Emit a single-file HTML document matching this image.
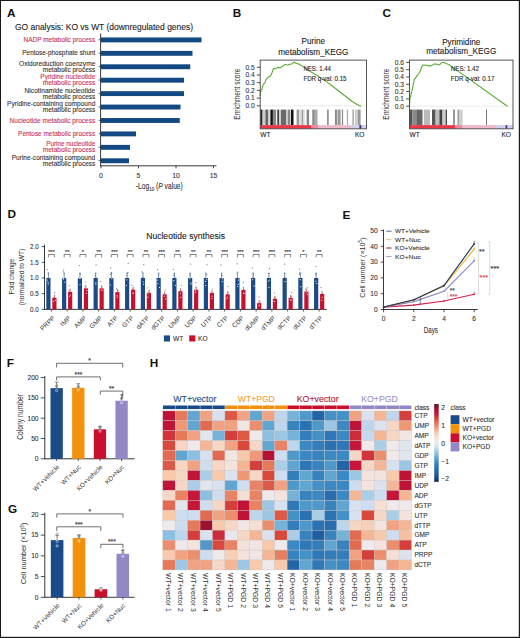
<!DOCTYPE html>
<html><head><meta charset="utf-8"><style>
html,body{margin:0;padding:0;background:#fff;}
body{width:520px;height:638px;overflow:hidden;}
svg{display:block;font-family:"Liberation Sans", sans-serif;}
</style></head><body>
<svg width="520" height="638" viewBox="0 0 520 638">
<rect x="0" y="0" width="520" height="638" fill="#fff"/>
<text x="7.0" y="16.6" font-size="11.8" fill="#111" text-anchor="start" font-weight="bold">A</text>
<text x="232.8" y="16.6" font-size="11.8" fill="#111" text-anchor="start" font-weight="bold">B</text>
<text x="382.4" y="16.8" font-size="11.8" fill="#111" text-anchor="start" font-weight="bold">C</text>
<text x="7.5" y="218.1" font-size="11.8" fill="#111" text-anchor="start" font-weight="bold">D</text>
<text x="342.5" y="218.9" font-size="11.8" fill="#111" text-anchor="start" font-weight="bold">E</text>
<text x="6.8" y="367.2" font-size="11.8" fill="#111" text-anchor="start" font-weight="bold">F</text>
<text x="8" y="513.4" font-size="11.8" fill="#111" text-anchor="start" font-weight="bold">G</text>
<text x="149.8" y="367.2" font-size="11.8" fill="#111" text-anchor="start" font-weight="bold">H</text>
<text x="15" y="29.6" font-size="8.6" fill="#222" text-anchor="start" textLength="178" lengthAdjust="spacingAndGlyphs" stroke="#222" stroke-width="0.1">GO analysis: KO vs WT (downregulated genes)</text>
<text x="95.3" y="42.05" font-size="6.6" fill="#c4315a" text-anchor="end" textLength="71.8" lengthAdjust="spacingAndGlyphs" stroke="#c4315a" stroke-width="0.1">NADP metabolic process</text>
<rect x="101.00" y="37.45" width="100.50" height="4.90" fill="#134983"/>
<line x1="98.6" y1="39.75" x2="100.6" y2="39.75" stroke="#222" stroke-width="0.7"/>
<text x="95.3" y="55.48" font-size="6.6" fill="#333" text-anchor="end" textLength="73" lengthAdjust="spacingAndGlyphs" stroke="#333" stroke-width="0.1">Pentose-phosphate shunt</text>
<rect x="101.00" y="50.88" width="91.50" height="4.90" fill="#134983"/>
<line x1="98.6" y1="53.18" x2="100.6" y2="53.18" stroke="#222" stroke-width="0.7"/>
<text x="95.3" y="65.71" font-size="6.6" fill="#333" text-anchor="end" textLength="76.2" lengthAdjust="spacingAndGlyphs" stroke="#333" stroke-width="0.1">Oxidoreduction coenzyme</text>
<text x="95.3" y="71.81" font-size="6.6" fill="#333" text-anchor="end" textLength="52.5" lengthAdjust="spacingAndGlyphs" stroke="#333" stroke-width="0.1">metabolic process</text>
<rect x="101.00" y="64.31" width="89.25" height="4.90" fill="#134983"/>
<line x1="98.6" y1="66.61" x2="100.6" y2="66.61" stroke="#222" stroke-width="0.7"/>
<text x="95.3" y="79.13999999999999" font-size="6.6" fill="#c4315a" text-anchor="end" textLength="55" lengthAdjust="spacingAndGlyphs" stroke="#c4315a" stroke-width="0.1">Pyridine nucleotide</text>
<text x="95.3" y="85.24" font-size="6.6" fill="#c4315a" text-anchor="end" textLength="52.5" lengthAdjust="spacingAndGlyphs" stroke="#c4315a" stroke-width="0.1">metabolic process</text>
<rect x="101.00" y="77.74" width="83.03" height="4.90" fill="#134983"/>
<line x1="98.6" y1="80.03999999999999" x2="100.6" y2="80.03999999999999" stroke="#222" stroke-width="0.7"/>
<text x="95.3" y="92.57" font-size="6.6" fill="#333" text-anchor="end" textLength="70.8" lengthAdjust="spacingAndGlyphs" stroke="#333" stroke-width="0.1">Nicotinamide nucleotide</text>
<text x="95.3" y="98.67" font-size="6.6" fill="#333" text-anchor="end" textLength="52.5" lengthAdjust="spacingAndGlyphs" stroke="#333" stroke-width="0.1">metabolic process</text>
<rect x="101.00" y="91.17" width="83.03" height="4.90" fill="#134983"/>
<line x1="98.6" y1="93.47" x2="100.6" y2="93.47" stroke="#222" stroke-width="0.7"/>
<text x="95.3" y="106.0" font-size="6.6" fill="#333" text-anchor="end" textLength="88.2" lengthAdjust="spacingAndGlyphs" stroke="#333" stroke-width="0.1">Pyridine-containing compound</text>
<text x="95.3" y="112.10000000000001" font-size="6.6" fill="#333" text-anchor="end" textLength="52.5" lengthAdjust="spacingAndGlyphs" stroke="#333" stroke-width="0.1">metabolic process</text>
<rect x="101.00" y="104.60" width="79.50" height="4.90" fill="#134983"/>
<line x1="98.6" y1="106.9" x2="100.6" y2="106.9" stroke="#222" stroke-width="0.7"/>
<text x="95.3" y="122.63" font-size="6.6" fill="#c4315a" text-anchor="end" textLength="85.7" lengthAdjust="spacingAndGlyphs" stroke="#c4315a" stroke-width="0.1">Nucleotide metabolic process</text>
<rect x="101.00" y="118.03" width="78.75" height="4.90" fill="#134983"/>
<line x1="98.6" y1="120.33" x2="100.6" y2="120.33" stroke="#222" stroke-width="0.7"/>
<text x="95.3" y="136.06" font-size="6.6" fill="#c4315a" text-anchor="end" textLength="77.2" lengthAdjust="spacingAndGlyphs" stroke="#c4315a" stroke-width="0.1">Pentose metabolic process</text>
<rect x="101.00" y="131.46" width="35.02" height="4.90" fill="#134983"/>
<line x1="98.6" y1="133.76" x2="100.6" y2="133.76" stroke="#222" stroke-width="0.7"/>
<text x="95.3" y="146.29" font-size="6.6" fill="#c4315a" text-anchor="end" textLength="49.1" lengthAdjust="spacingAndGlyphs" stroke="#c4315a" stroke-width="0.1">Purine nucleotide</text>
<text x="95.3" y="152.39" font-size="6.6" fill="#c4315a" text-anchor="end" textLength="52.5" lengthAdjust="spacingAndGlyphs" stroke="#c4315a" stroke-width="0.1">metabolic process</text>
<rect x="101.00" y="144.89" width="29.03" height="4.90" fill="#134983"/>
<line x1="98.6" y1="147.19" x2="100.6" y2="147.19" stroke="#222" stroke-width="0.7"/>
<text x="95.3" y="159.72" font-size="6.6" fill="#333" text-anchor="end" textLength="83.6" lengthAdjust="spacingAndGlyphs" stroke="#333" stroke-width="0.1">Purine-containing compound</text>
<text x="95.3" y="165.82" font-size="6.6" fill="#333" text-anchor="end" textLength="52.5" lengthAdjust="spacingAndGlyphs" stroke="#333" stroke-width="0.1">metabolic process</text>
<rect x="101.00" y="158.32" width="27.98" height="4.90" fill="#134983"/>
<line x1="98.6" y1="160.62" x2="100.6" y2="160.62" stroke="#222" stroke-width="0.7"/>
<line x1="100.6" y1="33.5" x2="100.6" y2="166.2" stroke="#222" stroke-width="0.9"/>
<line x1="100.2" y1="165.8" x2="216.5" y2="165.8" stroke="#222" stroke-width="0.9"/>
<line x1="101.0" y1="165.8" x2="101.0" y2="168.3" stroke="#222" stroke-width="0.8"/>
<text x="101.0" y="178" font-size="6.8" fill="#333" text-anchor="middle" stroke="#333" stroke-width="0.1">0</text>
<line x1="138.5" y1="165.8" x2="138.5" y2="168.3" stroke="#222" stroke-width="0.8"/>
<text x="138.5" y="178" font-size="6.8" fill="#333" text-anchor="middle" stroke="#333" stroke-width="0.1">5</text>
<line x1="176.0" y1="165.8" x2="176.0" y2="168.3" stroke="#222" stroke-width="0.8"/>
<text x="176.0" y="178" font-size="6.8" fill="#333" text-anchor="middle" stroke="#333" stroke-width="0.1">10</text>
<line x1="213.5" y1="165.8" x2="213.5" y2="168.3" stroke="#222" stroke-width="0.8"/>
<text x="213.5" y="178" font-size="6.8" fill="#333" text-anchor="middle" stroke="#333" stroke-width="0.1">15</text>
<text x="135.8" y="189.4" font-size="8.2" fill="#333" stroke="#333" stroke-width="0.1" text-anchor="start" textLength="47" lengthAdjust="spacingAndGlyphs">-Log<tspan font-size="5.6" dy="1.7">10</tspan><tspan dy="-1.7"> (</tspan><tspan font-style="italic">P</tspan> value)</text>
<text x="313.34999999999997" y="43.9" font-size="8.2" fill="#222" text-anchor="middle" stroke="#222" stroke-width="0.1">Purine</text>
<text x="313.34999999999997" y="54.7" font-size="8.2" fill="#222" text-anchor="middle" stroke="#222" stroke-width="0.1">metabolism_KEGG</text>
<line x1="260.2" y1="105.8" x2="366.5" y2="105.8" stroke="#bbb" stroke-width="0.6" stroke-dasharray="1,1"/>
<rect x="260.40" y="109.60" width="1.90" height="15.50" fill="#222"/>
<rect x="262.30" y="109.60" width="1.20" height="15.50" fill="#999"/>
<rect x="263.50" y="109.60" width="1.90" height="15.50" fill="#ccc"/>
<rect x="265.40" y="109.60" width="3.10" height="15.50" fill="#666"/>
<rect x="268.50" y="109.60" width="1.90" height="15.50" fill="#ddd"/>
<rect x="270.40" y="109.60" width="2.50" height="15.50" fill="#111"/>
<rect x="272.90" y="109.60" width="3.10" height="15.50" fill="#888"/>
<rect x="276.00" y="109.60" width="1.30" height="15.50" fill="#eee"/>
<rect x="277.30" y="109.60" width="1.80" height="15.50" fill="#444"/>
<rect x="279.10" y="109.60" width="1.90" height="15.50" fill="#ccc"/>
<rect x="281.00" y="109.60" width="5.00" height="15.50" fill="#6a6a6a"/>
<rect x="286.00" y="109.60" width="1.90" height="15.50" fill="#ccc"/>
<rect x="287.90" y="109.60" width="2.50" height="15.50" fill="#888"/>
<rect x="290.40" y="109.60" width="0.60" height="15.50" fill="#ddd"/>
<rect x="291.00" y="109.60" width="2.50" height="15.50" fill="#111"/>
<rect x="296.60" y="109.60" width="2.50" height="15.50" fill="#999"/>
<rect x="299.10" y="109.60" width="1.90" height="15.50" fill="#ddd"/>
<rect x="301.60" y="109.60" width="1.30" height="15.50" fill="#888"/>
<rect x="302.90" y="109.60" width="1.90" height="15.50" fill="#ddd"/>
<rect x="306.60" y="109.60" width="2.50" height="15.50" fill="#888"/>
<rect x="312.30" y="109.60" width="2.50" height="15.50" fill="#888"/>
<rect x="314.80" y="109.60" width="2.70" height="15.50" fill="#aaa"/>
<rect x="326.90" y="109.60" width="1.90" height="15.50" fill="#999"/>
<rect x="335.00" y="109.60" width="1.90" height="15.50" fill="#888"/>
<rect x="337.50" y="109.60" width="3.10" height="15.50" fill="#999"/>
<rect x="341.90" y="109.60" width="1.20" height="15.50" fill="#888"/>
<rect x="346.90" y="109.60" width="1.20" height="15.50" fill="#aaa"/>
<rect x="352.50" y="109.60" width="1.30" height="15.50" fill="#999"/>
<rect x="355.00" y="109.60" width="1.90" height="15.50" fill="#ccc"/>
<rect x="357.50" y="109.60" width="3.10" height="15.50" fill="#999"/>
<rect x="260.00" y="125.10" width="51.00" height="3.60" fill="#e8384a"/>
<rect x="311.00" y="125.10" width="7.00" height="3.60" fill="#ee8a9c"/>
<rect x="318.00" y="125.10" width="32.00" height="3.60" fill="#f1b9cb"/>
<rect x="350.00" y="125.10" width="16.50" height="3.60" fill="#d6cdea"/>
<rect x="359.40" y="125.10" width="1.90" height="3.60" fill="#2a3a8a"/>
<polyline points="259.9,95.9 260.5,91.5 261.6,90.4 262.1,88.5 262.7,86.0 263.8,83.8 265.0,82.7 265.6,80.5 266.0,79.3 267.2,78.4 268.3,77.1 270.5,76.0 271.6,73.8 272.1,72.3 272.7,70.5 273.8,68.3 275.0,68.6 276.0,68.7 277.2,67.6 278.2,67.2 279.3,67.9 280.4,67.8 281.5,66.7 282.7,66.0 283.8,65.5 284.9,64.3 286.5,64.8 288.2,65.0 289.3,64.2 290.4,64.3 291.5,64.0 292.6,63.4 293.5,62.8 294.4,62.3 295.9,63.4 298.1,63.8 299.8,64.8 301.5,65.6 305.9,68.5 310.3,71.6 315.9,74.8 321.4,78.2 327.0,82.1 332.4,86.0 338.0,90.5 343.5,94.8 348.0,98.3 352.3,101.5 355.8,103.7 359.0,105.4 361.2,106.2" fill="none" stroke="#5cab35" stroke-width="1.1" stroke-linejoin="round"/>
<rect x="260.2" y="60.1" width="106.3" height="68.7" fill="none" stroke="#444" stroke-width="0.9"/>
<line x1="256.8" y1="105.8" x2="260.2" y2="105.8" stroke="#222" stroke-width="0.8"/>
<text x="254.6" y="108.1" font-size="6.6" fill="#333" text-anchor="end" stroke="#333" stroke-width="0.1">0.0</text>
<line x1="256.8" y1="98.1" x2="260.2" y2="98.1" stroke="#222" stroke-width="0.8"/>
<text x="254.6" y="100.39999999999999" font-size="6.6" fill="#333" text-anchor="end" stroke="#333" stroke-width="0.1">0.1</text>
<line x1="256.8" y1="90.39999999999999" x2="260.2" y2="90.39999999999999" stroke="#222" stroke-width="0.8"/>
<text x="254.6" y="92.69999999999999" font-size="6.6" fill="#333" text-anchor="end" stroke="#333" stroke-width="0.1">0.2</text>
<line x1="256.8" y1="82.69999999999999" x2="260.2" y2="82.69999999999999" stroke="#222" stroke-width="0.8"/>
<text x="254.6" y="84.99999999999999" font-size="6.6" fill="#333" text-anchor="end" stroke="#333" stroke-width="0.1">0.3</text>
<line x1="256.8" y1="75.0" x2="260.2" y2="75.0" stroke="#222" stroke-width="0.8"/>
<text x="254.6" y="77.3" font-size="6.6" fill="#333" text-anchor="end" stroke="#333" stroke-width="0.1">0.4</text>
<line x1="256.8" y1="67.3" x2="260.2" y2="67.3" stroke="#222" stroke-width="0.8"/>
<text x="254.6" y="69.6" font-size="6.6" fill="#333" text-anchor="end" stroke="#333" stroke-width="0.1">0.5</text>
<text x="303.4" y="70.5" font-size="6.8" fill="#222" text-anchor="start" textLength="27.6" lengthAdjust="spacingAndGlyphs" stroke="#222" stroke-width="0.1">NES: 1.44</text>
<text x="303.4" y="80.5" font-size="6.8" fill="#222" text-anchor="start" textLength="43.1" lengthAdjust="spacingAndGlyphs" stroke="#222" stroke-width="0.1">FDR q-val: 0.15</text>
<text x="260.2" y="136.6" font-size="6.6" fill="#222" text-anchor="start" stroke="#222" stroke-width="0.1">WT</text>
<text x="364.5" y="136.6" font-size="6.6" fill="#222" text-anchor="end" stroke="#222" stroke-width="0.1">KO</text>
<text transform="translate(239.6,94.2) rotate(-90)" font-size="8.2" fill="#333" text-anchor="middle" textLength="51" lengthAdjust="spacingAndGlyphs">Enrichment score</text>
<text x="461.25" y="44.7" font-size="8.2" fill="#222" text-anchor="middle" stroke="#222" stroke-width="0.1">Pyrimidine</text>
<text x="461.25" y="53.9" font-size="8.2" fill="#222" text-anchor="middle" stroke="#222" stroke-width="0.1">metabolism_KEGG</text>
<line x1="409.5" y1="106.2" x2="513.0" y2="106.2" stroke="#bbb" stroke-width="0.6" stroke-dasharray="1,1"/>
<rect x="409.60" y="109.60" width="2.90" height="15.50" fill="#555"/>
<rect x="412.50" y="109.60" width="4.50" height="15.50" fill="#8a8a8a"/>
<rect x="417.00" y="109.60" width="0.70" height="15.50" fill="#111"/>
<rect x="417.70" y="109.60" width="4.80" height="15.50" fill="#666"/>
<rect x="423.80" y="109.60" width="6.20" height="15.50" fill="#bbb"/>
<rect x="432.00" y="109.60" width="3.60" height="15.50" fill="#555"/>
<rect x="435.60" y="109.60" width="3.80" height="15.50" fill="#bbb"/>
<rect x="439.40" y="109.60" width="3.10" height="15.50" fill="#444"/>
<rect x="442.50" y="109.60" width="2.50" height="15.50" fill="#ccc"/>
<rect x="445.60" y="109.60" width="1.30" height="15.50" fill="#333"/>
<rect x="453.00" y="109.60" width="2.00" height="15.50" fill="#999"/>
<rect x="457.50" y="109.60" width="1.90" height="15.50" fill="#999"/>
<rect x="460.00" y="109.60" width="2.50" height="15.50" fill="#ccc"/>
<rect x="486.00" y="109.60" width="0.80" height="15.50" fill="#555"/>
<rect x="409.50" y="125.10" width="45.50" height="3.60" fill="#e8384a"/>
<rect x="455.00" y="125.10" width="7.00" height="3.60" fill="#ee8a9c"/>
<rect x="462.00" y="125.10" width="34.00" height="3.60" fill="#f1b9cb"/>
<rect x="496.00" y="125.10" width="17.00" height="3.60" fill="#d6cdea"/>
<rect x="505.60" y="125.10" width="1.60" height="3.60" fill="#2a3a8a"/>
<polyline points="409.4,105.9 409.9,99.2 410.5,96.5 411.2,93.7 412.1,90.4 412.8,86.8 413.4,83.8 414.3,79.3 415.2,78.5 416.1,77.1 417.2,75.4 418.7,73.8 419.6,72.5 420.5,70.5 421.6,67.2 422.7,65.0 424.3,65.2 426.0,65.0 427.1,65.5 428.2,65.6 430.4,66.1 431.5,65.4 432.7,65.0 434.9,63.8 436.0,64.1 437.1,64.3 439.3,65.0 440.4,63.8 441.5,62.7 443.7,62.3 445.9,63.4 448.1,64.3 450.4,65.6 507.4,106.2" fill="none" stroke="#5cab35" stroke-width="1.1" stroke-linejoin="round"/>
<rect x="409.5" y="60.1" width="103.5" height="68.7" fill="none" stroke="#444" stroke-width="0.9"/>
<line x1="406.1" y1="106.2" x2="409.5" y2="106.2" stroke="#222" stroke-width="0.8"/>
<text x="403.9" y="108.5" font-size="6.6" fill="#333" text-anchor="end" stroke="#333" stroke-width="0.1">0.0</text>
<line x1="406.1" y1="98.9" x2="409.5" y2="98.9" stroke="#222" stroke-width="0.8"/>
<text x="403.9" y="101.2" font-size="6.6" fill="#333" text-anchor="end" stroke="#333" stroke-width="0.1">0.1</text>
<line x1="406.1" y1="91.60000000000001" x2="409.5" y2="91.60000000000001" stroke="#222" stroke-width="0.8"/>
<text x="403.9" y="93.9" font-size="6.6" fill="#333" text-anchor="end" stroke="#333" stroke-width="0.1">0.2</text>
<line x1="406.1" y1="84.30000000000001" x2="409.5" y2="84.30000000000001" stroke="#222" stroke-width="0.8"/>
<text x="403.9" y="86.60000000000001" font-size="6.6" fill="#333" text-anchor="end" stroke="#333" stroke-width="0.1">0.3</text>
<line x1="406.1" y1="77.0" x2="409.5" y2="77.0" stroke="#222" stroke-width="0.8"/>
<text x="403.9" y="79.3" font-size="6.6" fill="#333" text-anchor="end" stroke="#333" stroke-width="0.1">0.4</text>
<line x1="406.1" y1="69.7" x2="409.5" y2="69.7" stroke="#222" stroke-width="0.8"/>
<text x="403.9" y="72.0" font-size="6.6" fill="#333" text-anchor="end" stroke="#333" stroke-width="0.1">0.5</text>
<line x1="406.1" y1="62.400000000000006" x2="409.5" y2="62.400000000000006" stroke="#222" stroke-width="0.8"/>
<text x="403.9" y="64.7" font-size="6.6" fill="#333" text-anchor="end" stroke="#333" stroke-width="0.1">0.6</text>
<text x="450.8" y="70.5" font-size="6.8" fill="#222" text-anchor="start" textLength="28.2" lengthAdjust="spacingAndGlyphs" stroke="#222" stroke-width="0.1">NES: 1.42</text>
<text x="450.8" y="80.5" font-size="6.8" fill="#222" text-anchor="start" textLength="43.6" lengthAdjust="spacingAndGlyphs" stroke="#222" stroke-width="0.1">FDR q-val: 0.17</text>
<text x="409.5" y="136.6" font-size="6.6" fill="#222" text-anchor="start" stroke="#222" stroke-width="0.1">WT</text>
<text x="511.0" y="136.6" font-size="6.6" fill="#222" text-anchor="end" stroke="#222" stroke-width="0.1">KO</text>
<text transform="translate(388.9,94.2) rotate(-90)" font-size="8.2" fill="#333" text-anchor="middle" textLength="51" lengthAdjust="spacingAndGlyphs">Enrichment score</text>
<text x="185.6" y="238.8" font-size="8.4" fill="#222" text-anchor="middle" textLength="78.8" lengthAdjust="spacingAndGlyphs" stroke="#222" stroke-width="0.1">Nucleotide synthesis</text>
<line x1="44.5" y1="244.8" x2="44.5" y2="309.8" stroke="#222" stroke-width="0.9"/>
<line x1="44.1" y1="309.4" x2="326.8" y2="309.4" stroke="#222" stroke-width="0.9"/>
<line x1="41.8" y1="309.4" x2="44.5" y2="309.4" stroke="#222" stroke-width="0.8"/>
<text x="38.7" y="311.7" font-size="6.6" fill="#333" text-anchor="end" textLength="8.6" lengthAdjust="spacingAndGlyphs" stroke="#333" stroke-width="0.1">0.0</text>
<line x1="41.8" y1="293.7" x2="44.5" y2="293.7" stroke="#222" stroke-width="0.8"/>
<text x="38.7" y="296.0" font-size="6.6" fill="#333" text-anchor="end" textLength="8.6" lengthAdjust="spacingAndGlyphs" stroke="#333" stroke-width="0.1">0.5</text>
<line x1="41.8" y1="278.0" x2="44.5" y2="278.0" stroke="#222" stroke-width="0.8"/>
<text x="38.7" y="280.3" font-size="6.6" fill="#333" text-anchor="end" textLength="8.6" lengthAdjust="spacingAndGlyphs" stroke="#333" stroke-width="0.1">1.0</text>
<line x1="41.8" y1="262.29999999999995" x2="44.5" y2="262.29999999999995" stroke="#222" stroke-width="0.8"/>
<text x="38.7" y="264.59999999999997" font-size="6.6" fill="#333" text-anchor="end" textLength="8.6" lengthAdjust="spacingAndGlyphs" stroke="#333" stroke-width="0.1">1.5</text>
<line x1="41.8" y1="246.59999999999997" x2="44.5" y2="246.59999999999997" stroke="#222" stroke-width="0.8"/>
<text x="38.7" y="248.89999999999998" font-size="6.6" fill="#333" text-anchor="end" textLength="8.6" lengthAdjust="spacingAndGlyphs" stroke="#333" stroke-width="0.1">2.0</text>
<text transform="translate(14.2,276.6) rotate(-90)" font-size="7.2" fill="#333" text-anchor="middle" textLength="35.7" lengthAdjust="spacingAndGlyphs">Fold change</text>
<text transform="translate(24.2,277) rotate(-90)" font-size="7.2" fill="#333" text-anchor="middle" textLength="56.4" lengthAdjust="spacingAndGlyphs">(normalized to WT)</text>
<line x1="48.4" y1="273.0" x2="48.4" y2="278.0" stroke="#1b3f73" stroke-width="0.6"/>
<line x1="47.599999999999994" y1="273.0" x2="49.199999999999996" y2="273.0" stroke="#1b3f73" stroke-width="0.5"/>
<line x1="54.4" y1="294.782" x2="54.4" y2="297.782" stroke="#8a0f22" stroke-width="0.6"/>
<rect x="46.30" y="278.00" width="4.20" height="31.40" fill="#1b4a88"/>
<rect x="52.30" y="297.78" width="4.20" height="11.62" fill="#c8102e"/>
<circle cx="48.10" cy="282.29" r="0.62" fill="#dfe6f2"/>
<circle cx="47.43" cy="280.10" r="0.62" fill="#dfe6f2"/>
<circle cx="48.42" cy="273.04" r="0.62" fill="#6d7f9c"/>
<circle cx="47.38" cy="269.58" r="0.62" fill="#6d7f9c"/>
<circle cx="48.25" cy="284.05" r="0.62" fill="#dfe6f2"/>
<circle cx="53.57" cy="301.33" r="0.62" fill="#f6c7cf"/>
<circle cx="53.79" cy="297.55" r="0.62" fill="#b77a86"/>
<circle cx="54.68" cy="292.64" r="0.62" fill="#b77a86"/>
<circle cx="55.38" cy="300.17" r="0.62" fill="#f6c7cf"/>
<polyline points="48.40,257.3 48.40,254.5 54.40,254.5 54.40,257.3" fill="none" stroke="#333" stroke-width="0.6"/>
<text x="51.4" y="254.4" font-size="5.6" fill="#333" text-anchor="middle" stroke="#333" stroke-width="0.1">***</text>
<line x1="51.4" y1="309.4" x2="51.4" y2="311.59999999999997" stroke="#222" stroke-width="0.7"/>
<text transform="translate(55.30,318.60) rotate(-45)" font-size="6.5" fill="#333" text-anchor="end">PRPP</text>
<line x1="64.14999999999999" y1="273.0" x2="64.14999999999999" y2="278.0" stroke="#1b3f73" stroke-width="0.6"/>
<line x1="63.349999999999994" y1="273.0" x2="64.95" y2="273.0" stroke="#1b3f73" stroke-width="0.5"/>
<line x1="70.14999999999999" y1="288.816" x2="70.14999999999999" y2="291.816" stroke="#8a0f22" stroke-width="0.6"/>
<rect x="62.05" y="278.00" width="4.20" height="31.40" fill="#1b4a88"/>
<rect x="68.05" y="291.82" width="4.20" height="17.58" fill="#c8102e"/>
<circle cx="63.69" cy="279.51" r="0.62" fill="#dfe6f2"/>
<circle cx="63.37" cy="278.40" r="0.62" fill="#dfe6f2"/>
<circle cx="63.31" cy="271.81" r="0.62" fill="#6d7f9c"/>
<circle cx="63.73" cy="269.78" r="0.62" fill="#6d7f9c"/>
<circle cx="64.85" cy="282.03" r="0.62" fill="#dfe6f2"/>
<circle cx="70.26" cy="295.02" r="0.62" fill="#f6c7cf"/>
<circle cx="69.19" cy="290.36" r="0.62" fill="#b77a86"/>
<circle cx="69.18" cy="285.67" r="0.62" fill="#b77a86"/>
<circle cx="69.50" cy="296.34" r="0.62" fill="#f6c7cf"/>
<polyline points="64.15,257.3 64.15,254.5 70.15,254.5 70.15,257.3" fill="none" stroke="#333" stroke-width="0.6"/>
<text x="67.14999999999999" y="254.4" font-size="5.6" fill="#333" text-anchor="middle" stroke="#333" stroke-width="0.1">**</text>
<line x1="67.15" y1="309.4" x2="67.15" y2="311.59999999999997" stroke="#222" stroke-width="0.7"/>
<text transform="translate(71.05,318.60) rotate(-45)" font-size="6.5" fill="#333" text-anchor="end">IMP</text>
<line x1="79.89999999999999" y1="273.0" x2="79.89999999999999" y2="278.0" stroke="#1b3f73" stroke-width="0.6"/>
<line x1="79.1" y1="273.0" x2="80.7" y2="273.0" stroke="#1b3f73" stroke-width="0.5"/>
<line x1="85.89999999999999" y1="285.36199999999997" x2="85.89999999999999" y2="288.36199999999997" stroke="#8a0f22" stroke-width="0.6"/>
<rect x="77.80" y="278.00" width="4.20" height="31.40" fill="#1b4a88"/>
<rect x="83.80" y="288.36" width="4.20" height="21.04" fill="#c8102e"/>
<circle cx="79.46" cy="278.37" r="0.62" fill="#dfe6f2"/>
<circle cx="80.55" cy="278.19" r="0.62" fill="#dfe6f2"/>
<circle cx="80.34" cy="274.30" r="0.62" fill="#6d7f9c"/>
<circle cx="79.34" cy="265.55" r="0.62" fill="#6d7f9c"/>
<circle cx="80.06" cy="284.57" r="0.62" fill="#dfe6f2"/>
<circle cx="86.96" cy="290.48" r="0.62" fill="#f6c7cf"/>
<circle cx="85.06" cy="286.16" r="0.62" fill="#b77a86"/>
<circle cx="85.72" cy="281.79" r="0.62" fill="#b77a86"/>
<circle cx="86.47" cy="293.29" r="0.62" fill="#f6c7cf"/>
<polyline points="79.90,257.3 79.90,254.5 85.90,254.5 85.90,257.3" fill="none" stroke="#333" stroke-width="0.6"/>
<text x="82.89999999999999" y="254.4" font-size="5.6" fill="#333" text-anchor="middle" stroke="#333" stroke-width="0.1">*</text>
<line x1="82.9" y1="309.4" x2="82.9" y2="311.59999999999997" stroke="#222" stroke-width="0.7"/>
<text transform="translate(86.80,318.60) rotate(-45)" font-size="6.5" fill="#333" text-anchor="end">AMP</text>
<line x1="95.64999999999999" y1="273.0" x2="95.64999999999999" y2="278.0" stroke="#1b3f73" stroke-width="0.6"/>
<line x1="94.85" y1="273.0" x2="96.45" y2="273.0" stroke="#1b3f73" stroke-width="0.5"/>
<line x1="101.64999999999999" y1="285.36199999999997" x2="101.64999999999999" y2="288.36199999999997" stroke="#8a0f22" stroke-width="0.6"/>
<rect x="93.55" y="278.00" width="4.20" height="31.40" fill="#1b4a88"/>
<rect x="99.55" y="288.36" width="4.20" height="21.04" fill="#c8102e"/>
<circle cx="95.81" cy="284.18" r="0.62" fill="#dfe6f2"/>
<circle cx="96.48" cy="277.76" r="0.62" fill="#6d7f9c"/>
<circle cx="95.24" cy="275.34" r="0.62" fill="#6d7f9c"/>
<circle cx="96.08" cy="264.90" r="0.62" fill="#6d7f9c"/>
<circle cx="95.86" cy="282.62" r="0.62" fill="#dfe6f2"/>
<circle cx="101.59" cy="290.31" r="0.62" fill="#f6c7cf"/>
<circle cx="102.01" cy="287.22" r="0.62" fill="#b77a86"/>
<circle cx="100.68" cy="281.27" r="0.62" fill="#b77a86"/>
<circle cx="102.09" cy="290.19" r="0.62" fill="#f6c7cf"/>
<polyline points="95.65,257.3 95.65,254.5 101.65,254.5 101.65,257.3" fill="none" stroke="#333" stroke-width="0.6"/>
<text x="98.64999999999999" y="254.4" font-size="5.6" fill="#333" text-anchor="middle" stroke="#333" stroke-width="0.1">**</text>
<line x1="98.65" y1="309.4" x2="98.65" y2="311.59999999999997" stroke="#222" stroke-width="0.7"/>
<text transform="translate(102.55,318.60) rotate(-45)" font-size="6.5" fill="#333" text-anchor="end">GMP</text>
<line x1="111.39999999999999" y1="273.0" x2="111.39999999999999" y2="278.0" stroke="#1b3f73" stroke-width="0.6"/>
<line x1="110.6" y1="273.0" x2="112.2" y2="273.0" stroke="#1b3f73" stroke-width="0.5"/>
<line x1="117.39999999999999" y1="289.13" x2="117.39999999999999" y2="292.13" stroke="#8a0f22" stroke-width="0.6"/>
<rect x="109.30" y="278.00" width="4.20" height="31.40" fill="#1b4a88"/>
<rect x="115.30" y="292.13" width="4.20" height="17.27" fill="#c8102e"/>
<circle cx="111.77" cy="278.74" r="0.62" fill="#dfe6f2"/>
<circle cx="110.35" cy="274.28" r="0.62" fill="#6d7f9c"/>
<circle cx="111.32" cy="272.39" r="0.62" fill="#6d7f9c"/>
<circle cx="110.67" cy="267.92" r="0.62" fill="#6d7f9c"/>
<circle cx="110.56" cy="285.00" r="0.62" fill="#dfe6f2"/>
<circle cx="117.16" cy="295.71" r="0.62" fill="#f6c7cf"/>
<circle cx="118.22" cy="290.20" r="0.62" fill="#b77a86"/>
<circle cx="116.48" cy="288.38" r="0.62" fill="#b77a86"/>
<circle cx="117.29" cy="297.24" r="0.62" fill="#f6c7cf"/>
<polyline points="111.40,257.3 111.40,254.5 117.40,254.5 117.40,257.3" fill="none" stroke="#333" stroke-width="0.6"/>
<text x="114.39999999999999" y="254.4" font-size="5.6" fill="#333" text-anchor="middle" stroke="#333" stroke-width="0.1">***</text>
<line x1="114.4" y1="309.4" x2="114.4" y2="311.59999999999997" stroke="#222" stroke-width="0.7"/>
<text transform="translate(118.30,318.60) rotate(-45)" font-size="6.5" fill="#333" text-anchor="end">ATP</text>
<line x1="127.14999999999999" y1="273.0" x2="127.14999999999999" y2="278.0" stroke="#1b3f73" stroke-width="0.6"/>
<line x1="126.35" y1="273.0" x2="127.95" y2="273.0" stroke="#1b3f73" stroke-width="0.5"/>
<line x1="133.15" y1="286.618" x2="133.15" y2="289.618" stroke="#8a0f22" stroke-width="0.6"/>
<rect x="125.05" y="278.00" width="4.20" height="31.40" fill="#1b4a88"/>
<rect x="131.05" y="289.62" width="4.20" height="19.78" fill="#c8102e"/>
<circle cx="126.96" cy="279.81" r="0.62" fill="#dfe6f2"/>
<circle cx="126.84" cy="275.04" r="0.62" fill="#6d7f9c"/>
<circle cx="128.00" cy="272.40" r="0.62" fill="#6d7f9c"/>
<circle cx="128.16" cy="263.37" r="0.62" fill="#6d7f9c"/>
<circle cx="126.38" cy="285.67" r="0.62" fill="#dfe6f2"/>
<circle cx="133.35" cy="292.83" r="0.62" fill="#f6c7cf"/>
<circle cx="132.63" cy="289.04" r="0.62" fill="#b77a86"/>
<circle cx="132.06" cy="285.38" r="0.62" fill="#b77a86"/>
<circle cx="132.97" cy="293.61" r="0.62" fill="#f6c7cf"/>
<polyline points="127.15,257.3 127.15,254.5 133.15,254.5 133.15,257.3" fill="none" stroke="#333" stroke-width="0.6"/>
<text x="130.15" y="254.4" font-size="5.6" fill="#333" text-anchor="middle" stroke="#333" stroke-width="0.1">**</text>
<line x1="130.15" y1="309.4" x2="130.15" y2="311.59999999999997" stroke="#222" stroke-width="0.7"/>
<text transform="translate(134.05,318.60) rotate(-45)" font-size="6.5" fill="#333" text-anchor="end">GTP</text>
<line x1="142.9" y1="273.0" x2="142.9" y2="278.0" stroke="#1b3f73" stroke-width="0.6"/>
<line x1="142.10000000000002" y1="273.0" x2="143.70000000000002" y2="273.0" stroke="#1b3f73" stroke-width="0.5"/>
<line x1="148.9" y1="289.758" x2="148.9" y2="292.758" stroke="#8a0f22" stroke-width="0.6"/>
<rect x="140.80" y="278.00" width="4.20" height="31.40" fill="#1b4a88"/>
<rect x="146.80" y="292.76" width="4.20" height="16.64" fill="#c8102e"/>
<circle cx="143.16" cy="281.79" r="0.62" fill="#dfe6f2"/>
<circle cx="143.29" cy="277.23" r="0.62" fill="#6d7f9c"/>
<circle cx="141.92" cy="271.90" r="0.62" fill="#6d7f9c"/>
<circle cx="143.78" cy="264.73" r="0.62" fill="#6d7f9c"/>
<circle cx="143.52" cy="284.18" r="0.62" fill="#dfe6f2"/>
<circle cx="148.03" cy="293.78" r="0.62" fill="#f6c7cf"/>
<circle cx="149.20" cy="290.75" r="0.62" fill="#b77a86"/>
<circle cx="147.94" cy="287.77" r="0.62" fill="#b77a86"/>
<circle cx="147.95" cy="297.16" r="0.62" fill="#f6c7cf"/>
<polyline points="142.90,257.3 142.90,254.5 148.90,254.5 148.90,257.3" fill="none" stroke="#333" stroke-width="0.6"/>
<text x="145.9" y="254.4" font-size="5.6" fill="#333" text-anchor="middle" stroke="#333" stroke-width="0.1">**</text>
<line x1="145.9" y1="309.4" x2="145.9" y2="311.59999999999997" stroke="#222" stroke-width="0.7"/>
<text transform="translate(149.80,318.60) rotate(-45)" font-size="6.5" fill="#333" text-anchor="end">dATP</text>
<line x1="158.65" y1="273.0" x2="158.65" y2="278.0" stroke="#1b3f73" stroke-width="0.6"/>
<line x1="157.85000000000002" y1="273.0" x2="159.45000000000002" y2="273.0" stroke="#1b3f73" stroke-width="0.5"/>
<line x1="164.65" y1="291.328" x2="164.65" y2="294.328" stroke="#8a0f22" stroke-width="0.6"/>
<rect x="156.55" y="278.00" width="4.20" height="31.40" fill="#1b4a88"/>
<rect x="162.55" y="294.33" width="4.20" height="15.07" fill="#c8102e"/>
<circle cx="157.88" cy="283.56" r="0.62" fill="#dfe6f2"/>
<circle cx="157.77" cy="280.02" r="0.62" fill="#dfe6f2"/>
<circle cx="158.35" cy="274.21" r="0.62" fill="#6d7f9c"/>
<circle cx="157.61" cy="269.74" r="0.62" fill="#6d7f9c"/>
<circle cx="159.47" cy="287.42" r="0.62" fill="#dfe6f2"/>
<circle cx="164.35" cy="296.17" r="0.62" fill="#f6c7cf"/>
<circle cx="163.82" cy="293.95" r="0.62" fill="#b77a86"/>
<circle cx="165.42" cy="290.00" r="0.62" fill="#b77a86"/>
<circle cx="165.73" cy="298.97" r="0.62" fill="#f6c7cf"/>
<polyline points="158.65,257.3 158.65,254.5 164.65,254.5 164.65,257.3" fill="none" stroke="#333" stroke-width="0.6"/>
<text x="161.65" y="254.4" font-size="5.6" fill="#333" text-anchor="middle" stroke="#333" stroke-width="0.1">***</text>
<line x1="161.65" y1="309.4" x2="161.65" y2="311.59999999999997" stroke="#222" stroke-width="0.7"/>
<text transform="translate(165.55,318.60) rotate(-45)" font-size="6.5" fill="#333" text-anchor="end">dGTP</text>
<line x1="174.4" y1="273.0" x2="174.4" y2="278.0" stroke="#1b3f73" stroke-width="0.6"/>
<line x1="173.60000000000002" y1="273.0" x2="175.20000000000002" y2="273.0" stroke="#1b3f73" stroke-width="0.5"/>
<line x1="180.4" y1="288.188" x2="180.4" y2="291.188" stroke="#8a0f22" stroke-width="0.6"/>
<rect x="172.30" y="278.00" width="4.20" height="31.40" fill="#1b4a88"/>
<rect x="178.30" y="291.19" width="4.20" height="18.21" fill="#c8102e"/>
<circle cx="173.88" cy="280.73" r="0.62" fill="#dfe6f2"/>
<circle cx="175.12" cy="277.80" r="0.62" fill="#6d7f9c"/>
<circle cx="173.66" cy="275.16" r="0.62" fill="#6d7f9c"/>
<circle cx="173.35" cy="269.35" r="0.62" fill="#6d7f9c"/>
<circle cx="175.39" cy="285.27" r="0.62" fill="#dfe6f2"/>
<circle cx="180.46" cy="293.30" r="0.62" fill="#f6c7cf"/>
<circle cx="181.45" cy="290.82" r="0.62" fill="#b77a86"/>
<circle cx="181.20" cy="285.49" r="0.62" fill="#b77a86"/>
<circle cx="180.83" cy="297.34" r="0.62" fill="#f6c7cf"/>
<polyline points="174.40,257.3 174.40,254.5 180.40,254.5 180.40,257.3" fill="none" stroke="#333" stroke-width="0.6"/>
<text x="177.4" y="254.4" font-size="5.6" fill="#333" text-anchor="middle" stroke="#333" stroke-width="0.1">**</text>
<line x1="177.4" y1="309.4" x2="177.4" y2="311.59999999999997" stroke="#222" stroke-width="0.7"/>
<text transform="translate(181.30,318.60) rotate(-45)" font-size="6.5" fill="#333" text-anchor="end">UMP</text>
<line x1="190.15" y1="273.0" x2="190.15" y2="278.0" stroke="#1b3f73" stroke-width="0.6"/>
<line x1="189.35000000000002" y1="273.0" x2="190.95000000000002" y2="273.0" stroke="#1b3f73" stroke-width="0.5"/>
<line x1="196.15" y1="286.618" x2="196.15" y2="289.618" stroke="#8a0f22" stroke-width="0.6"/>
<rect x="188.05" y="278.00" width="4.20" height="31.40" fill="#1b4a88"/>
<rect x="194.05" y="289.62" width="4.20" height="19.78" fill="#c8102e"/>
<circle cx="190.76" cy="282.98" r="0.62" fill="#dfe6f2"/>
<circle cx="189.78" cy="278.61" r="0.62" fill="#dfe6f2"/>
<circle cx="189.54" cy="274.86" r="0.62" fill="#6d7f9c"/>
<circle cx="190.84" cy="264.09" r="0.62" fill="#6d7f9c"/>
<circle cx="191.22" cy="284.08" r="0.62" fill="#dfe6f2"/>
<circle cx="195.55" cy="290.71" r="0.62" fill="#f6c7cf"/>
<circle cx="196.19" cy="287.59" r="0.62" fill="#b77a86"/>
<circle cx="195.83" cy="282.62" r="0.62" fill="#b77a86"/>
<circle cx="195.11" cy="292.41" r="0.62" fill="#f6c7cf"/>
<polyline points="190.15,257.3 190.15,254.5 196.15,254.5 196.15,257.3" fill="none" stroke="#333" stroke-width="0.6"/>
<text x="193.15" y="254.4" font-size="5.6" fill="#333" text-anchor="middle" stroke="#333" stroke-width="0.1">**</text>
<line x1="193.15" y1="309.4" x2="193.15" y2="311.59999999999997" stroke="#222" stroke-width="0.7"/>
<text transform="translate(197.05,318.60) rotate(-45)" font-size="6.5" fill="#333" text-anchor="end">UDP</text>
<line x1="205.9" y1="273.0" x2="205.9" y2="278.0" stroke="#1b3f73" stroke-width="0.6"/>
<line x1="205.10000000000002" y1="273.0" x2="206.70000000000002" y2="273.0" stroke="#1b3f73" stroke-width="0.5"/>
<line x1="211.9" y1="290.072" x2="211.9" y2="293.072" stroke="#8a0f22" stroke-width="0.6"/>
<rect x="203.80" y="278.00" width="4.20" height="31.40" fill="#1b4a88"/>
<rect x="209.80" y="293.07" width="4.20" height="16.33" fill="#c8102e"/>
<circle cx="205.78" cy="285.54" r="0.62" fill="#dfe6f2"/>
<circle cx="206.86" cy="279.21" r="0.62" fill="#dfe6f2"/>
<circle cx="206.97" cy="274.51" r="0.62" fill="#6d7f9c"/>
<circle cx="206.90" cy="264.71" r="0.62" fill="#6d7f9c"/>
<circle cx="205.60" cy="281.41" r="0.62" fill="#dfe6f2"/>
<circle cx="212.17" cy="296.15" r="0.62" fill="#f6c7cf"/>
<circle cx="212.78" cy="292.50" r="0.62" fill="#b77a86"/>
<circle cx="212.65" cy="289.01" r="0.62" fill="#b77a86"/>
<circle cx="211.85" cy="298.39" r="0.62" fill="#f6c7cf"/>
<polyline points="205.90,257.3 205.90,254.5 211.90,254.5 211.90,257.3" fill="none" stroke="#333" stroke-width="0.6"/>
<text x="208.9" y="254.4" font-size="5.6" fill="#333" text-anchor="middle" stroke="#333" stroke-width="0.1">**</text>
<line x1="208.9" y1="309.4" x2="208.9" y2="311.59999999999997" stroke="#222" stroke-width="0.7"/>
<text transform="translate(212.80,318.60) rotate(-45)" font-size="6.5" fill="#333" text-anchor="end">UTP</text>
<line x1="221.65" y1="273.0" x2="221.65" y2="278.0" stroke="#1b3f73" stroke-width="0.6"/>
<line x1="220.85000000000002" y1="273.0" x2="222.45000000000002" y2="273.0" stroke="#1b3f73" stroke-width="0.5"/>
<line x1="227.65" y1="291.328" x2="227.65" y2="294.328" stroke="#8a0f22" stroke-width="0.6"/>
<rect x="219.55" y="278.00" width="4.20" height="31.40" fill="#1b4a88"/>
<rect x="225.55" y="294.33" width="4.20" height="15.07" fill="#c8102e"/>
<circle cx="222.27" cy="278.67" r="0.62" fill="#dfe6f2"/>
<circle cx="222.20" cy="275.62" r="0.62" fill="#6d7f9c"/>
<circle cx="221.60" cy="275.17" r="0.62" fill="#6d7f9c"/>
<circle cx="220.94" cy="264.96" r="0.62" fill="#6d7f9c"/>
<circle cx="222.29" cy="281.71" r="0.62" fill="#dfe6f2"/>
<circle cx="227.43" cy="297.05" r="0.62" fill="#f6c7cf"/>
<circle cx="228.63" cy="292.32" r="0.62" fill="#b77a86"/>
<circle cx="228.14" cy="286.61" r="0.62" fill="#b77a86"/>
<circle cx="226.92" cy="298.74" r="0.62" fill="#f6c7cf"/>
<polyline points="221.65,257.3 221.65,254.5 227.65,254.5 227.65,257.3" fill="none" stroke="#333" stroke-width="0.6"/>
<text x="224.65" y="254.4" font-size="5.6" fill="#333" text-anchor="middle" stroke="#333" stroke-width="0.1">***</text>
<line x1="224.65" y1="309.4" x2="224.65" y2="311.59999999999997" stroke="#222" stroke-width="0.7"/>
<text transform="translate(228.55,318.60) rotate(-45)" font-size="6.5" fill="#333" text-anchor="end">CTP</text>
<line x1="237.4" y1="273.0" x2="237.4" y2="278.0" stroke="#1b3f73" stroke-width="0.6"/>
<line x1="236.60000000000002" y1="273.0" x2="238.20000000000002" y2="273.0" stroke="#1b3f73" stroke-width="0.5"/>
<line x1="243.4" y1="286.93199999999996" x2="243.4" y2="289.93199999999996" stroke="#8a0f22" stroke-width="0.6"/>
<rect x="235.30" y="278.00" width="4.20" height="31.40" fill="#1b4a88"/>
<rect x="241.30" y="289.93" width="4.20" height="19.47" fill="#c8102e"/>
<circle cx="238.12" cy="284.45" r="0.62" fill="#dfe6f2"/>
<circle cx="238.46" cy="280.10" r="0.62" fill="#dfe6f2"/>
<circle cx="237.75" cy="272.08" r="0.62" fill="#6d7f9c"/>
<circle cx="237.07" cy="263.82" r="0.62" fill="#6d7f9c"/>
<circle cx="237.51" cy="286.50" r="0.62" fill="#dfe6f2"/>
<circle cx="243.46" cy="293.29" r="0.62" fill="#f6c7cf"/>
<circle cx="244.35" cy="289.90" r="0.62" fill="#b77a86"/>
<circle cx="243.25" cy="282.22" r="0.62" fill="#b77a86"/>
<circle cx="244.22" cy="293.15" r="0.62" fill="#f6c7cf"/>
<polyline points="237.40,257.3 237.40,254.5 243.40,254.5 243.40,257.3" fill="none" stroke="#333" stroke-width="0.6"/>
<text x="240.4" y="254.4" font-size="5.6" fill="#333" text-anchor="middle" stroke="#333" stroke-width="0.1">***</text>
<line x1="240.4" y1="309.4" x2="240.4" y2="311.59999999999997" stroke="#222" stroke-width="0.7"/>
<text transform="translate(244.30,318.60) rotate(-45)" font-size="6.5" fill="#333" text-anchor="end">CDP</text>
<line x1="253.15" y1="273.0" x2="253.15" y2="278.0" stroke="#1b3f73" stroke-width="0.6"/>
<line x1="252.35000000000002" y1="273.0" x2="253.95000000000002" y2="273.0" stroke="#1b3f73" stroke-width="0.5"/>
<line x1="259.15000000000003" y1="300.12" x2="259.15000000000003" y2="303.12" stroke="#8a0f22" stroke-width="0.6"/>
<rect x="251.05" y="278.00" width="4.20" height="31.40" fill="#1b4a88"/>
<rect x="257.05" y="303.12" width="4.20" height="6.28" fill="#c8102e"/>
<circle cx="253.34" cy="276.77" r="0.62" fill="#6d7f9c"/>
<circle cx="252.62" cy="279.68" r="0.62" fill="#dfe6f2"/>
<circle cx="252.97" cy="274.54" r="0.62" fill="#6d7f9c"/>
<circle cx="252.34" cy="267.85" r="0.62" fill="#6d7f9c"/>
<circle cx="254.05" cy="285.91" r="0.62" fill="#dfe6f2"/>
<circle cx="258.98" cy="305.78" r="0.62" fill="#f6c7cf"/>
<circle cx="260.07" cy="301.97" r="0.62" fill="#b77a86"/>
<circle cx="259.15" cy="297.23" r="0.62" fill="#b77a86"/>
<circle cx="259.22" cy="305.14" r="0.62" fill="#f6c7cf"/>
<polyline points="253.15,257.3 253.15,254.5 259.15,254.5 259.15,257.3" fill="none" stroke="#333" stroke-width="0.6"/>
<text x="256.15000000000003" y="254.4" font-size="5.6" fill="#333" text-anchor="middle" stroke="#333" stroke-width="0.1">***</text>
<line x1="256.15" y1="309.4" x2="256.15" y2="311.59999999999997" stroke="#222" stroke-width="0.7"/>
<text transform="translate(260.05,318.60) rotate(-45)" font-size="6.5" fill="#333" text-anchor="end">dUMP</text>
<line x1="268.90000000000003" y1="273.0" x2="268.90000000000003" y2="278.0" stroke="#1b3f73" stroke-width="0.6"/>
<line x1="268.1" y1="273.0" x2="269.7" y2="273.0" stroke="#1b3f73" stroke-width="0.5"/>
<line x1="274.90000000000003" y1="295.724" x2="274.90000000000003" y2="298.724" stroke="#8a0f22" stroke-width="0.6"/>
<rect x="266.80" y="278.00" width="4.20" height="31.40" fill="#1b4a88"/>
<rect x="272.80" y="298.72" width="4.20" height="10.68" fill="#c8102e"/>
<circle cx="269.56" cy="280.10" r="0.62" fill="#dfe6f2"/>
<circle cx="268.18" cy="281.01" r="0.62" fill="#dfe6f2"/>
<circle cx="268.84" cy="273.83" r="0.62" fill="#6d7f9c"/>
<circle cx="269.40" cy="268.71" r="0.62" fill="#6d7f9c"/>
<circle cx="269.02" cy="287.40" r="0.62" fill="#dfe6f2"/>
<circle cx="274.03" cy="301.47" r="0.62" fill="#f6c7cf"/>
<circle cx="275.03" cy="297.42" r="0.62" fill="#b77a86"/>
<circle cx="274.35" cy="292.97" r="0.62" fill="#b77a86"/>
<circle cx="274.41" cy="301.31" r="0.62" fill="#f6c7cf"/>
<polyline points="268.90,257.3 268.90,254.5 274.90,254.5 274.90,257.3" fill="none" stroke="#333" stroke-width="0.6"/>
<text x="271.90000000000003" y="254.4" font-size="5.6" fill="#333" text-anchor="middle" stroke="#333" stroke-width="0.1">***</text>
<line x1="271.9" y1="309.4" x2="271.9" y2="311.59999999999997" stroke="#222" stroke-width="0.7"/>
<text transform="translate(275.80,318.60) rotate(-45)" font-size="6.5" fill="#333" text-anchor="end">dTMP</text>
<line x1="284.65000000000003" y1="273.0" x2="284.65000000000003" y2="278.0" stroke="#1b3f73" stroke-width="0.6"/>
<line x1="283.85" y1="273.0" x2="285.45" y2="273.0" stroke="#1b3f73" stroke-width="0.5"/>
<line x1="290.65000000000003" y1="294.782" x2="290.65000000000003" y2="297.782" stroke="#8a0f22" stroke-width="0.6"/>
<rect x="282.55" y="278.00" width="4.20" height="31.40" fill="#1b4a88"/>
<rect x="288.55" y="297.78" width="4.20" height="11.62" fill="#c8102e"/>
<circle cx="284.53" cy="277.36" r="0.62" fill="#6d7f9c"/>
<circle cx="284.90" cy="277.63" r="0.62" fill="#6d7f9c"/>
<circle cx="284.66" cy="273.37" r="0.62" fill="#6d7f9c"/>
<circle cx="284.68" cy="264.18" r="0.62" fill="#6d7f9c"/>
<circle cx="285.07" cy="281.69" r="0.62" fill="#dfe6f2"/>
<circle cx="291.09" cy="300.13" r="0.62" fill="#f6c7cf"/>
<circle cx="291.48" cy="296.44" r="0.62" fill="#b77a86"/>
<circle cx="291.62" cy="292.39" r="0.62" fill="#b77a86"/>
<circle cx="290.12" cy="299.63" r="0.62" fill="#f6c7cf"/>
<polyline points="284.65,257.3 284.65,254.5 290.65,254.5 290.65,257.3" fill="none" stroke="#333" stroke-width="0.6"/>
<text x="287.65000000000003" y="254.4" font-size="5.6" fill="#333" text-anchor="middle" stroke="#333" stroke-width="0.1">***</text>
<line x1="287.65" y1="309.4" x2="287.65" y2="311.59999999999997" stroke="#222" stroke-width="0.7"/>
<text transform="translate(291.55,318.60) rotate(-45)" font-size="6.5" fill="#333" text-anchor="end">dCTP</text>
<line x1="300.40000000000003" y1="273.0" x2="300.40000000000003" y2="278.0" stroke="#1b3f73" stroke-width="0.6"/>
<line x1="299.6" y1="273.0" x2="301.2" y2="273.0" stroke="#1b3f73" stroke-width="0.5"/>
<line x1="306.40000000000003" y1="288.50199999999995" x2="306.40000000000003" y2="291.50199999999995" stroke="#8a0f22" stroke-width="0.6"/>
<rect x="298.30" y="278.00" width="4.20" height="31.40" fill="#1b4a88"/>
<rect x="304.30" y="291.50" width="4.20" height="17.90" fill="#c8102e"/>
<circle cx="300.27" cy="279.70" r="0.62" fill="#dfe6f2"/>
<circle cx="299.46" cy="274.62" r="0.62" fill="#6d7f9c"/>
<circle cx="299.83" cy="272.32" r="0.62" fill="#6d7f9c"/>
<circle cx="299.46" cy="269.07" r="0.62" fill="#6d7f9c"/>
<circle cx="300.77" cy="286.66" r="0.62" fill="#dfe6f2"/>
<circle cx="306.75" cy="292.81" r="0.62" fill="#f6c7cf"/>
<circle cx="305.61" cy="289.25" r="0.62" fill="#b77a86"/>
<circle cx="307.24" cy="287.63" r="0.62" fill="#b77a86"/>
<circle cx="307.43" cy="294.41" r="0.62" fill="#f6c7cf"/>
<polyline points="300.40,257.3 300.40,254.5 306.40,254.5 306.40,257.3" fill="none" stroke="#333" stroke-width="0.6"/>
<text x="303.40000000000003" y="254.4" font-size="5.6" fill="#333" text-anchor="middle" stroke="#333" stroke-width="0.1">*</text>
<line x1="303.4" y1="309.4" x2="303.4" y2="311.59999999999997" stroke="#222" stroke-width="0.7"/>
<text transform="translate(307.30,318.60) rotate(-45)" font-size="6.5" fill="#333" text-anchor="end">dUTP</text>
<line x1="316.15000000000003" y1="273.0" x2="316.15000000000003" y2="278.0" stroke="#1b3f73" stroke-width="0.6"/>
<line x1="315.35" y1="273.0" x2="316.95" y2="273.0" stroke="#1b3f73" stroke-width="0.5"/>
<line x1="322.15000000000003" y1="291.01399999999995" x2="322.15000000000003" y2="294.01399999999995" stroke="#8a0f22" stroke-width="0.6"/>
<rect x="314.05" y="278.00" width="4.20" height="31.40" fill="#1b4a88"/>
<rect x="320.05" y="294.01" width="4.20" height="15.39" fill="#c8102e"/>
<circle cx="316.88" cy="283.44" r="0.62" fill="#dfe6f2"/>
<circle cx="315.41" cy="274.56" r="0.62" fill="#6d7f9c"/>
<circle cx="316.00" cy="273.99" r="0.62" fill="#6d7f9c"/>
<circle cx="316.18" cy="266.33" r="0.62" fill="#6d7f9c"/>
<circle cx="315.80" cy="281.20" r="0.62" fill="#dfe6f2"/>
<circle cx="322.27" cy="297.17" r="0.62" fill="#f6c7cf"/>
<circle cx="322.02" cy="293.21" r="0.62" fill="#b77a86"/>
<circle cx="321.09" cy="287.47" r="0.62" fill="#b77a86"/>
<circle cx="321.78" cy="300.20" r="0.62" fill="#f6c7cf"/>
<polyline points="316.15,257.3 316.15,254.5 322.15,254.5 322.15,257.3" fill="none" stroke="#333" stroke-width="0.6"/>
<text x="319.15000000000003" y="254.4" font-size="5.6" fill="#333" text-anchor="middle" stroke="#333" stroke-width="0.1">**</text>
<line x1="319.15" y1="309.4" x2="319.15" y2="311.59999999999997" stroke="#222" stroke-width="0.7"/>
<text transform="translate(323.05,318.60) rotate(-45)" font-size="6.5" fill="#333" text-anchor="end">dTTP</text>
<rect x="163.90" y="335.40" width="6.10" height="6.10" fill="#1b4a88"/>
<text x="173" y="340.9" font-size="6.6" fill="#333" text-anchor="start" stroke="#333" stroke-width="0.1">WT</text>
<rect x="189.20" y="335.40" width="6.10" height="6.10" fill="#c8102e"/>
<text x="198" y="340.9" font-size="6.6" fill="#333" text-anchor="start" stroke="#333" stroke-width="0.1">KO</text>
<line x1="383.5" y1="229.6" x2="383.5" y2="309.9" stroke="#222" stroke-width="0.9"/>
<line x1="383.1" y1="309.5" x2="477.7" y2="309.5" stroke="#222" stroke-width="0.9"/>
<line x1="380.7" y1="309.5" x2="383.5" y2="309.5" stroke="#222" stroke-width="0.8"/>
<text x="377.7" y="311.8" font-size="6.6" fill="#333" text-anchor="end" stroke="#333" stroke-width="0.1">0</text>
<line x1="380.7" y1="293.7" x2="383.5" y2="293.7" stroke="#222" stroke-width="0.8"/>
<text x="377.7" y="296.0" font-size="6.6" fill="#333" text-anchor="end" stroke="#333" stroke-width="0.1">10</text>
<line x1="380.7" y1="277.9" x2="383.5" y2="277.9" stroke="#222" stroke-width="0.8"/>
<text x="377.7" y="280.2" font-size="6.6" fill="#333" text-anchor="end" stroke="#333" stroke-width="0.1">20</text>
<line x1="380.7" y1="262.1" x2="383.5" y2="262.1" stroke="#222" stroke-width="0.8"/>
<text x="377.7" y="264.40000000000003" font-size="6.6" fill="#333" text-anchor="end" stroke="#333" stroke-width="0.1">30</text>
<line x1="380.7" y1="246.3" x2="383.5" y2="246.3" stroke="#222" stroke-width="0.8"/>
<text x="377.7" y="248.60000000000002" font-size="6.6" fill="#333" text-anchor="end" stroke="#333" stroke-width="0.1">40</text>
<line x1="380.7" y1="230.5" x2="383.5" y2="230.5" stroke="#222" stroke-width="0.8"/>
<text x="377.7" y="232.8" font-size="6.6" fill="#333" text-anchor="end" stroke="#333" stroke-width="0.1">50</text>
<line x1="383.6" y1="309.5" x2="383.6" y2="312.2" stroke="#222" stroke-width="0.8"/>
<text x="383.6" y="321.4" font-size="6.6" fill="#333" text-anchor="middle" stroke="#333" stroke-width="0.1">0</text>
<line x1="413.8" y1="309.5" x2="413.8" y2="312.2" stroke="#222" stroke-width="0.8"/>
<text x="413.8" y="321.4" font-size="6.6" fill="#333" text-anchor="middle" stroke="#333" stroke-width="0.1">2</text>
<line x1="444.0" y1="309.5" x2="444.0" y2="312.2" stroke="#222" stroke-width="0.8"/>
<text x="444.0" y="321.4" font-size="6.6" fill="#333" text-anchor="middle" stroke="#333" stroke-width="0.1">4</text>
<line x1="474.20000000000005" y1="309.5" x2="474.20000000000005" y2="312.2" stroke="#222" stroke-width="0.8"/>
<text x="474.20000000000005" y="321.4" font-size="6.6" fill="#333" text-anchor="middle" stroke="#333" stroke-width="0.1">6</text>
<text x="430.8" y="333.2" font-size="8.6" fill="#333" text-anchor="middle" textLength="14" lengthAdjust="spacingAndGlyphs" stroke="#333" stroke-width="0.1">Days</text>
<text transform="translate(364.5,267.6) rotate(-90)" font-size="7.2" fill="#333" text-anchor="middle">Cell number (×10<tspan font-size="4.6" dy="-2.4">5</tspan><tspan dy="2.4">)</tspan></text>
<polyline points="383.6,307.1 413.8,305.1 444.0,301.0 474.2,294.3" fill="none" stroke="#d8204b" stroke-width="1.15"/>
<circle cx="383.6" cy="307.1" r="0.9" fill="#d8204b"/>
<circle cx="413.8" cy="305.1" r="0.9" fill="#d8204b"/>
<circle cx="444.0" cy="301.0" r="0.9" fill="#d8204b"/>
<circle cx="474.2" cy="294.3" r="0.9" fill="#d8204b"/>
<polyline points="383.6,307.1 413.8,301.6 444.0,291.2 474.2,260.8" fill="none" stroke="#8f88d0" stroke-width="1.15"/>
<circle cx="383.6" cy="307.1" r="0.9" fill="#8f88d0"/>
<circle cx="413.8" cy="301.6" r="0.9" fill="#8f88d0"/>
<circle cx="444.0" cy="291.2" r="0.9" fill="#8f88d0"/>
<circle cx="474.2" cy="260.8" r="0.9" fill="#8f88d0"/>
<polyline points="383.6,307.1 413.8,300.0 444.0,286.1 474.2,249.1" fill="none" stroke="#f1b533" stroke-width="1.15"/>
<circle cx="383.6" cy="307.1" r="0.9" fill="#f1b533"/>
<circle cx="413.8" cy="300.0" r="0.9" fill="#f1b533"/>
<circle cx="444.0" cy="286.1" r="0.9" fill="#f1b533"/>
<circle cx="474.2" cy="249.1" r="0.9" fill="#f1b533"/>
<polyline points="383.6,307.1 413.8,299.7 444.0,285.5 474.2,243.8" fill="none" stroke="#1e3658" stroke-width="1.15"/>
<circle cx="383.6" cy="307.1" r="0.9" fill="#1e3658"/>
<circle cx="413.8" cy="299.7" r="0.9" fill="#1e3658"/>
<circle cx="444.0" cy="285.5" r="0.9" fill="#1e3658"/>
<circle cx="474.2" cy="243.8" r="0.9" fill="#1e3658"/>
<line x1="474.20000000000005" y1="240.772" x2="474.20000000000005" y2="243.772" stroke="#1e3658" stroke-width="0.6"/>
<line x1="474.20000000000005" y1="246.144" x2="474.20000000000005" y2="249.144" stroke="#f1b533" stroke-width="0.6"/>
<line x1="474.20000000000005" y1="257.836" x2="474.20000000000005" y2="260.836" stroke="#8f88d0" stroke-width="0.6"/>
<line x1="474.20000000000005" y1="291.332" x2="474.20000000000005" y2="294.332" stroke="#d8204b" stroke-width="0.6"/>
<line x1="420.3" y1="298.4" x2="420.3" y2="300.6" stroke="#3a4a66" stroke-width="0.6"/>
<line x1="419.5" y1="298.4" x2="421.1" y2="298.4" stroke="#3a4a66" stroke-width="0.5"/>
<line x1="419.5" y1="300.6" x2="421.1" y2="300.6" stroke="#3a4a66" stroke-width="0.5"/>
<line x1="420.3" y1="301.9" x2="420.3" y2="303.6" stroke="#5a4a66" stroke-width="0.6"/>
<line x1="419.5" y1="301.9" x2="421.1" y2="301.9" stroke="#5a4a66" stroke-width="0.5"/>
<line x1="419.5" y1="303.6" x2="421.1" y2="303.6" stroke="#5a4a66" stroke-width="0.5"/>
<line x1="386.0" y1="231.2" x2="391.8" y2="231.2" stroke="#6d8db3" stroke-width="1.0"/>
<path d="M387.8,231.20 L388.9,230.20 L390.0,231.20 L388.9,232.20 Z" fill="#6d8db3"/>
<text x="395" y="233.29999999999998" font-size="6.0" fill="#333" text-anchor="start" textLength="34.6" lengthAdjust="spacingAndGlyphs" stroke="#333" stroke-width="0.1">WT+Vehicle</text>
<line x1="386.0" y1="239.61999999999998" x2="391.8" y2="239.61999999999998" stroke="#f2c590" stroke-width="1.0"/>
<path d="M387.8,239.62 L388.9,238.62 L390.0,239.62 L388.9,240.62 Z" fill="#f2c590"/>
<text x="395" y="241.71999999999997" font-size="6.0" fill="#333" text-anchor="start" textLength="25.5" lengthAdjust="spacingAndGlyphs" stroke="#333" stroke-width="0.1">WT+Nuc</text>
<line x1="386.0" y1="248.04" x2="391.8" y2="248.04" stroke="#b04a62" stroke-width="1.0"/>
<path d="M387.8,248.04 L388.9,247.04 L390.0,248.04 L388.9,249.04 Z" fill="#b04a62"/>
<text x="395" y="250.14" font-size="6.0" fill="#333" text-anchor="start" textLength="34.6" lengthAdjust="spacingAndGlyphs" stroke="#333" stroke-width="0.1">KO+Vehicle</text>
<line x1="386.0" y1="256.46" x2="391.8" y2="256.46" stroke="#a9a6d6" stroke-width="1.0"/>
<path d="M387.8,256.46 L388.9,255.46 L390.0,256.46 L388.9,257.46 Z" fill="#a9a6d6"/>
<text x="395" y="258.56" font-size="6.0" fill="#333" text-anchor="start" textLength="25.5" lengthAdjust="spacingAndGlyphs" stroke="#333" stroke-width="0.1">KO+Nuc</text>
<line x1="478.6" y1="242.8" x2="478.6" y2="294.2" stroke="#c8c8c8" stroke-width="0.6"/>
<line x1="477.2" y1="242.8" x2="478.6" y2="242.8" stroke="#c8c8c8" stroke-width="0.6"/>
<line x1="477.2" y1="260.8" x2="478.6" y2="260.8" stroke="#c8c8c8" stroke-width="0.6"/>
<line x1="477.2" y1="294.2" x2="478.6" y2="294.2" stroke="#c8c8c8" stroke-width="0.6"/>
<text x="479.0" y="253.6" font-size="7.2" fill="#1e3658" text-anchor="start" stroke="#1e3658" stroke-width="0.1">**</text>
<text x="479.6" y="280.0" font-size="7.2" fill="#e03050" text-anchor="start" stroke="#e03050" stroke-width="0.1">***</text>
<line x1="489.6" y1="241.6" x2="489.6" y2="294.6" stroke="#c8c8c8" stroke-width="0.6"/>
<line x1="488.2" y1="241.6" x2="489.6" y2="241.6" stroke="#c8c8c8" stroke-width="0.6"/>
<line x1="488.2" y1="294.6" x2="489.6" y2="294.6" stroke="#c8c8c8" stroke-width="0.6"/>
<text x="490.6" y="271.0" font-size="7.2" fill="#222" text-anchor="start" stroke="#222" stroke-width="0.1">***</text>
<line x1="447.4" y1="291.9" x2="447.4" y2="298.8" stroke="#b8d4e6" stroke-width="0.6"/>
<text x="449.8" y="292.6" font-size="6.4" fill="#1e3658" text-anchor="start" stroke="#1e3658" stroke-width="0.1">**</text>
<text x="449.8" y="299.0" font-size="6.4" fill="#e03050" text-anchor="start" stroke="#e03050" stroke-width="0.1">***</text>
<line x1="44.8" y1="376.0" x2="44.8" y2="459.2" stroke="#222" stroke-width="0.9"/>
<line x1="44.4" y1="458.8" x2="134.6" y2="458.8" stroke="#222" stroke-width="0.9"/>
<line x1="40.8" y1="458.8" x2="44.8" y2="458.8" stroke="#222" stroke-width="0.8"/>
<text x="38.5" y="461.1" font-size="6.6" fill="#333" text-anchor="end" stroke="#333" stroke-width="0.1">0</text>
<line x1="40.8" y1="438.5" x2="44.8" y2="438.5" stroke="#222" stroke-width="0.8"/>
<text x="38.5" y="440.8" font-size="6.6" fill="#333" text-anchor="end" stroke="#333" stroke-width="0.1">50</text>
<line x1="40.8" y1="418.2" x2="44.8" y2="418.2" stroke="#222" stroke-width="0.8"/>
<text x="38.5" y="420.5" font-size="6.6" fill="#333" text-anchor="end" stroke="#333" stroke-width="0.1">100</text>
<line x1="40.8" y1="397.9" x2="44.8" y2="397.9" stroke="#222" stroke-width="0.8"/>
<text x="38.5" y="400.2" font-size="6.6" fill="#333" text-anchor="end" stroke="#333" stroke-width="0.1">150</text>
<line x1="40.8" y1="377.6" x2="44.8" y2="377.6" stroke="#222" stroke-width="0.8"/>
<text x="38.5" y="379.90000000000003" font-size="6.6" fill="#333" text-anchor="end" stroke="#333" stroke-width="0.1">200</text>
<line x1="56.65" y1="382.156" x2="56.65" y2="388.156" stroke="#333" stroke-width="0.6"/>
<line x1="54.85" y1="382.156" x2="58.449999999999996" y2="382.156" stroke="#333" stroke-width="0.6"/>
<rect x="50.50" y="388.16" width="12.30" height="70.64" fill="#1b4a88"/>
<circle cx="56.65" cy="385.72" r="1.1" fill="none" stroke="#777" stroke-width="0.55"/>
<circle cx="56.65" cy="386.53" r="1.1" fill="none" stroke="#777" stroke-width="0.55"/>
<circle cx="56.65" cy="390.59" r="1.1" fill="none" stroke="#fff" stroke-width="0.55"/>
<line x1="56.65" y1="458.8" x2="56.65" y2="461.0" stroke="#222" stroke-width="0.7"/>
<text transform="translate(59.65,467.60) rotate(-45)" font-size="6.4" fill="#333" text-anchor="end">WT+Vehicle</text>
<line x1="78.30000000000001" y1="383.75" x2="78.30000000000001" y2="387.75" stroke="#333" stroke-width="0.6"/>
<line x1="76.50000000000001" y1="383.75" x2="80.10000000000001" y2="383.75" stroke="#333" stroke-width="0.6"/>
<rect x="72.15" y="387.75" width="12.30" height="71.05" fill="#f3900c"/>
<circle cx="78.30" cy="386.53" r="1.1" fill="none" stroke="#777" stroke-width="0.55"/>
<circle cx="78.30" cy="386.94" r="1.1" fill="none" stroke="#777" stroke-width="0.55"/>
<circle cx="78.30" cy="389.78" r="1.1" fill="none" stroke="#fff" stroke-width="0.55"/>
<line x1="78.30000000000001" y1="458.8" x2="78.30000000000001" y2="461.0" stroke="#222" stroke-width="0.7"/>
<text transform="translate(81.30,467.60) rotate(-45)" font-size="6.4" fill="#333" text-anchor="end">WT+Nuc</text>
<line x1="99.95" y1="426.3244" x2="99.95" y2="429.3244" stroke="#333" stroke-width="0.6"/>
<line x1="98.15" y1="426.3244" x2="101.75" y2="426.3244" stroke="#333" stroke-width="0.6"/>
<rect x="93.80" y="429.32" width="12.30" height="29.48" fill="#c8102e"/>
<circle cx="99.95" cy="427.13" r="1.1" fill="none" stroke="#777" stroke-width="0.55"/>
<circle cx="99.95" cy="427.94" r="1.1" fill="none" stroke="#777" stroke-width="0.55"/>
<circle cx="99.95" cy="431.19" r="1.1" fill="none" stroke="#fff" stroke-width="0.55"/>
<line x1="99.95" y1="458.8" x2="99.95" y2="461.0" stroke="#222" stroke-width="0.7"/>
<text transform="translate(102.95,467.60) rotate(-45)" font-size="6.4" fill="#333" text-anchor="end">KO+Vehicle</text>
<line x1="121.6" y1="394.742" x2="121.6" y2="400.742" stroke="#333" stroke-width="0.6"/>
<line x1="119.8" y1="394.742" x2="123.39999999999999" y2="394.742" stroke="#333" stroke-width="0.6"/>
<rect x="115.45" y="400.74" width="12.30" height="58.06" fill="#9487c5"/>
<circle cx="121.60" cy="397.90" r="1.1" fill="none" stroke="#777" stroke-width="0.55"/>
<circle cx="121.60" cy="398.71" r="1.1" fill="none" stroke="#777" stroke-width="0.55"/>
<circle cx="121.60" cy="402.77" r="1.1" fill="none" stroke="#fff" stroke-width="0.55"/>
<line x1="121.6" y1="458.8" x2="121.6" y2="461.0" stroke="#222" stroke-width="0.7"/>
<text transform="translate(124.60,467.60) rotate(-45)" font-size="6.4" fill="#333" text-anchor="end">KO+Nuc</text>
<polyline points="56.6,367.5 56.6,363.3 122.7,363.3 122.7,367.5" fill="none" stroke="#333" stroke-width="0.7"/>
<text x="89.65" y="363.40000000000003" font-size="6.6" fill="#333" text-anchor="middle" stroke="#333" stroke-width="0.1">*</text>
<polyline points="56.6,380.29999999999995 56.6,376.9 100.3,376.9 100.3,380.29999999999995" fill="none" stroke="#333" stroke-width="0.7"/>
<text x="78.45" y="377.0" font-size="6.6" fill="#333" text-anchor="middle" stroke="#333" stroke-width="0.1">***</text>
<polyline points="100.3,394.8 100.3,391.1 122.7,391.1 122.7,397.6" fill="none" stroke="#333" stroke-width="0.7"/>
<text x="111.5" y="391.20000000000005" font-size="6.6" fill="#333" text-anchor="middle" stroke="#333" stroke-width="0.1">**</text>
<text transform="translate(22.6,416.9) rotate(-90)" font-size="8.2" fill="#333" text-anchor="middle" textLength="45.7" lengthAdjust="spacingAndGlyphs">Colony number</text>
<line x1="44.8" y1="512.8" x2="44.8" y2="597.6999999999999" stroke="#222" stroke-width="0.9"/>
<line x1="44.4" y1="597.3" x2="134.6" y2="597.3" stroke="#222" stroke-width="0.9"/>
<line x1="40.8" y1="597.3" x2="44.8" y2="597.3" stroke="#222" stroke-width="0.8"/>
<text x="38.5" y="599.5999999999999" font-size="6.6" fill="#333" text-anchor="end" stroke="#333" stroke-width="0.1">0</text>
<line x1="40.8" y1="576.5799999999999" x2="44.8" y2="576.5799999999999" stroke="#222" stroke-width="0.8"/>
<text x="38.5" y="578.8799999999999" font-size="6.6" fill="#333" text-anchor="end" stroke="#333" stroke-width="0.1">5</text>
<line x1="40.8" y1="555.8599999999999" x2="44.8" y2="555.8599999999999" stroke="#222" stroke-width="0.8"/>
<text x="38.5" y="558.1599999999999" font-size="6.6" fill="#333" text-anchor="end" stroke="#333" stroke-width="0.1">10</text>
<line x1="40.8" y1="535.14" x2="44.8" y2="535.14" stroke="#222" stroke-width="0.8"/>
<text x="38.5" y="537.4399999999999" font-size="6.6" fill="#333" text-anchor="end" stroke="#333" stroke-width="0.1">15</text>
<line x1="40.8" y1="514.42" x2="44.8" y2="514.42" stroke="#222" stroke-width="0.8"/>
<text x="38.5" y="516.7199999999999" font-size="6.6" fill="#333" text-anchor="end" stroke="#333" stroke-width="0.1">20</text>
<line x1="57.099999999999994" y1="535.6128" x2="57.099999999999994" y2="540.1128" stroke="#333" stroke-width="0.6"/>
<line x1="55.3" y1="535.6128" x2="58.89999999999999" y2="535.6128" stroke="#333" stroke-width="0.6"/>
<rect x="50.80" y="540.11" width="12.60" height="57.19" fill="#1b4a88"/>
<circle cx="57.10" cy="533.90" r="1.1" fill="none" stroke="#777" stroke-width="0.55"/>
<circle cx="57.10" cy="541.36" r="1.1" fill="none" stroke="#fff" stroke-width="0.55"/>
<circle cx="57.10" cy="545.91" r="1.1" fill="none" stroke="#fff" stroke-width="0.55"/>
<line x1="57.099999999999994" y1="597.3" x2="57.099999999999994" y2="599.5" stroke="#222" stroke-width="0.7"/>
<text transform="translate(60.10,606.10) rotate(-45)" font-size="6.4" fill="#333" text-anchor="end">WT+Vehicle</text>
<line x1="78.99999999999999" y1="535.0408" x2="78.99999999999999" y2="538.0408" stroke="#333" stroke-width="0.6"/>
<line x1="77.19999999999999" y1="535.0408" x2="80.79999999999998" y2="535.0408" stroke="#333" stroke-width="0.6"/>
<rect x="72.70" y="538.04" width="12.60" height="59.26" fill="#f3900c"/>
<circle cx="79.00" cy="535.55" r="1.1" fill="none" stroke="#777" stroke-width="0.55"/>
<circle cx="79.00" cy="537.21" r="1.1" fill="none" stroke="#777" stroke-width="0.55"/>
<circle cx="79.00" cy="540.94" r="1.1" fill="none" stroke="#fff" stroke-width="0.55"/>
<line x1="78.99999999999999" y1="597.3" x2="78.99999999999999" y2="599.5" stroke="#222" stroke-width="0.7"/>
<text transform="translate(82.00,606.10) rotate(-45)" font-size="6.4" fill="#333" text-anchor="end">WT+Nuc</text>
<line x1="100.89999999999999" y1="588.0192" x2="100.89999999999999" y2="589.2192" stroke="#333" stroke-width="0.6"/>
<line x1="99.1" y1="588.0192" x2="102.69999999999999" y2="588.0192" stroke="#333" stroke-width="0.6"/>
<rect x="94.60" y="589.22" width="12.60" height="8.08" fill="#c8102e"/>
<circle cx="100.90" cy="588.60" r="1.1" fill="none" stroke="#777" stroke-width="0.55"/>
<circle cx="100.90" cy="589.43" r="1.1" fill="none" stroke="#fff" stroke-width="0.55"/>
<circle cx="100.90" cy="590.26" r="1.1" fill="none" stroke="#fff" stroke-width="0.55"/>
<line x1="100.89999999999999" y1="597.3" x2="100.89999999999999" y2="599.5" stroke="#222" stroke-width="0.7"/>
<text transform="translate(103.90,606.10) rotate(-45)" font-size="6.4" fill="#333" text-anchor="end">KO+Vehicle</text>
<line x1="122.79999999999998" y1="550.288" x2="122.79999999999998" y2="553.788" stroke="#333" stroke-width="0.6"/>
<line x1="120.99999999999999" y1="550.288" x2="124.59999999999998" y2="550.288" stroke="#333" stroke-width="0.6"/>
<rect x="116.50" y="553.79" width="12.60" height="43.51" fill="#9487c5"/>
<circle cx="122.80" cy="550.47" r="1.1" fill="none" stroke="#777" stroke-width="0.55"/>
<circle cx="122.80" cy="553.37" r="1.1" fill="none" stroke="#777" stroke-width="0.55"/>
<circle cx="122.80" cy="556.27" r="1.1" fill="none" stroke="#fff" stroke-width="0.55"/>
<line x1="122.79999999999998" y1="597.3" x2="122.79999999999998" y2="599.5" stroke="#222" stroke-width="0.7"/>
<text transform="translate(125.80,606.10) rotate(-45)" font-size="6.4" fill="#333" text-anchor="end">KO+Nuc</text>
<polyline points="56.8,517.6999999999999 56.8,513.9 123.0,513.9 123.0,517.6999999999999" fill="none" stroke="#333" stroke-width="0.7"/>
<text x="89.9" y="514.0" font-size="6.6" fill="#333" text-anchor="middle" stroke="#333" stroke-width="0.1">*</text>
<polyline points="56.8,531.0 56.8,526.8 100.8,526.8 100.8,531.0" fill="none" stroke="#333" stroke-width="0.7"/>
<text x="78.8" y="526.9" font-size="6.6" fill="#333" text-anchor="middle" stroke="#333" stroke-width="0.1">***</text>
<polyline points="100.8,548.3 100.8,544.3 123.0,544.3 123.0,548.3" fill="none" stroke="#333" stroke-width="0.7"/>
<text x="111.9" y="544.4" font-size="6.6" fill="#333" text-anchor="middle" stroke="#333" stroke-width="0.1">***</text>
<text transform="translate(26.0,553.4) rotate(-90)" font-size="7.4" fill="#333" text-anchor="middle">Cell number (×10<tspan font-size="4.6" dy="-2.4">5</tspan><tspan dy="2.4">)</tspan></text>
<rect x="162.75" y="410.90" width="12.44" height="9.94" fill="#bf1438" stroke="#c9c3c3" stroke-width="0.35"/>
<rect x="175.19" y="410.90" width="12.44" height="9.94" fill="#e57a5b" stroke="#c9c3c3" stroke-width="0.35"/>
<rect x="187.63" y="410.90" width="12.44" height="9.94" fill="#61a6d1" stroke="#c9c3c3" stroke-width="0.35"/>
<rect x="200.07" y="410.90" width="12.44" height="9.94" fill="#f1a282" stroke="#c9c3c3" stroke-width="0.35"/>
<rect x="212.51" y="410.90" width="12.44" height="9.94" fill="#d8e1ef" stroke="#c9c3c3" stroke-width="0.35"/>
<rect x="224.95" y="410.90" width="12.44" height="9.94" fill="#dc5946" stroke="#c9c3c3" stroke-width="0.35"/>
<rect x="237.39" y="410.90" width="12.44" height="9.94" fill="#f1a282" stroke="#c9c3c3" stroke-width="0.35"/>
<rect x="249.83" y="410.90" width="12.44" height="9.94" fill="#61a6d1" stroke="#c9c3c3" stroke-width="0.35"/>
<rect x="262.27" y="410.90" width="12.44" height="9.94" fill="#f1a282" stroke="#c9c3c3" stroke-width="0.35"/>
<rect x="274.71" y="410.90" width="12.44" height="9.94" fill="#bdd6ec" stroke="#c9c3c3" stroke-width="0.35"/>
<rect x="287.15" y="410.90" width="12.44" height="9.94" fill="#77b3d9" stroke="#c9c3c3" stroke-width="0.35"/>
<rect x="299.59" y="410.90" width="12.44" height="9.94" fill="#4f99ca" stroke="#c9c3c3" stroke-width="0.35"/>
<rect x="312.03" y="410.90" width="12.44" height="9.94" fill="#2364a7" stroke="#c9c3c3" stroke-width="0.35"/>
<rect x="324.47" y="410.90" width="12.44" height="9.94" fill="#4491c6" stroke="#c9c3c3" stroke-width="0.35"/>
<rect x="336.91" y="410.90" width="12.44" height="9.94" fill="#4491c6" stroke="#c9c3c3" stroke-width="0.35"/>
<rect x="349.35" y="410.90" width="12.44" height="9.94" fill="#f1a282" stroke="#c9c3c3" stroke-width="0.35"/>
<rect x="361.79" y="410.90" width="12.44" height="9.94" fill="#d8e1ef" stroke="#c9c3c3" stroke-width="0.35"/>
<rect x="374.23" y="410.90" width="12.44" height="9.94" fill="#f5b696" stroke="#c9c3c3" stroke-width="0.35"/>
<rect x="386.67" y="410.90" width="12.44" height="9.94" fill="#bdd6ec" stroke="#c9c3c3" stroke-width="0.35"/>
<rect x="399.11" y="410.90" width="12.44" height="9.94" fill="#d43f3b" stroke="#c9c3c3" stroke-width="0.35"/>
<rect x="162.75" y="420.84" width="12.44" height="9.94" fill="#bf1438" stroke="#c9c3c3" stroke-width="0.35"/>
<rect x="175.19" y="420.84" width="12.44" height="9.94" fill="#ee9878" stroke="#c9c3c3" stroke-width="0.35"/>
<rect x="187.63" y="420.84" width="12.44" height="9.94" fill="#61a6d1" stroke="#c9c3c3" stroke-width="0.35"/>
<rect x="200.07" y="420.84" width="12.44" height="9.94" fill="#e16a50" stroke="#c9c3c3" stroke-width="0.35"/>
<rect x="212.51" y="420.84" width="12.44" height="9.94" fill="#f1a282" stroke="#c9c3c3" stroke-width="0.35"/>
<rect x="224.95" y="420.84" width="12.44" height="9.94" fill="#f1a282" stroke="#c9c3c3" stroke-width="0.35"/>
<rect x="237.39" y="420.84" width="12.44" height="9.94" fill="#f1e6e3" stroke="#c9c3c3" stroke-width="0.35"/>
<rect x="249.83" y="420.84" width="12.44" height="9.94" fill="#eb8e6e" stroke="#c9c3c3" stroke-width="0.35"/>
<rect x="262.27" y="420.84" width="12.44" height="9.94" fill="#61a6d1" stroke="#c9c3c3" stroke-width="0.35"/>
<rect x="274.71" y="420.84" width="12.44" height="9.94" fill="#bdd6ec" stroke="#c9c3c3" stroke-width="0.35"/>
<rect x="287.15" y="420.84" width="12.44" height="9.94" fill="#3683be" stroke="#c9c3c3" stroke-width="0.35"/>
<rect x="299.59" y="420.84" width="12.44" height="9.94" fill="#2b72b3" stroke="#c9c3c3" stroke-width="0.35"/>
<rect x="312.03" y="420.84" width="12.44" height="9.94" fill="#4f99ca" stroke="#c9c3c3" stroke-width="0.35"/>
<rect x="324.47" y="420.84" width="12.44" height="9.94" fill="#9cc7e4" stroke="#c9c3c3" stroke-width="0.35"/>
<rect x="336.91" y="420.84" width="12.44" height="9.94" fill="#3a89c2" stroke="#c9c3c3" stroke-width="0.35"/>
<rect x="349.35" y="420.84" width="12.44" height="9.94" fill="#bf1438" stroke="#c9c3c3" stroke-width="0.35"/>
<rect x="361.79" y="420.84" width="12.44" height="9.94" fill="#bdd6ec" stroke="#c9c3c3" stroke-width="0.35"/>
<rect x="374.23" y="420.84" width="12.44" height="9.94" fill="#dce3ee" stroke="#c9c3c3" stroke-width="0.35"/>
<rect x="386.67" y="420.84" width="12.44" height="9.94" fill="#f6d6c4" stroke="#c9c3c3" stroke-width="0.35"/>
<rect x="399.11" y="420.84" width="12.44" height="9.94" fill="#ee9878" stroke="#c9c3c3" stroke-width="0.35"/>
<rect x="162.75" y="430.78" width="12.44" height="9.94" fill="#d1353b" stroke="#c9c3c3" stroke-width="0.35"/>
<rect x="175.19" y="430.78" width="12.44" height="9.94" fill="#e57a5b" stroke="#c9c3c3" stroke-width="0.35"/>
<rect x="187.63" y="430.78" width="12.44" height="9.94" fill="#f1a282" stroke="#c9c3c3" stroke-width="0.35"/>
<rect x="200.07" y="430.78" width="12.44" height="9.94" fill="#e1e5ee" stroke="#c9c3c3" stroke-width="0.35"/>
<rect x="212.51" y="430.78" width="12.44" height="9.94" fill="#77b3d9" stroke="#c9c3c3" stroke-width="0.35"/>
<rect x="224.95" y="430.78" width="12.44" height="9.94" fill="#d43f3b" stroke="#c9c3c3" stroke-width="0.35"/>
<rect x="237.39" y="430.78" width="12.44" height="9.94" fill="#dc5946" stroke="#c9c3c3" stroke-width="0.35"/>
<rect x="249.83" y="430.78" width="12.44" height="9.94" fill="#efe9ea" stroke="#c9c3c3" stroke-width="0.35"/>
<rect x="262.27" y="430.78" width="12.44" height="9.94" fill="#8dc0e0" stroke="#c9c3c3" stroke-width="0.35"/>
<rect x="274.71" y="430.78" width="12.44" height="9.94" fill="#9cc7e4" stroke="#c9c3c3" stroke-width="0.35"/>
<rect x="287.15" y="430.78" width="12.44" height="9.94" fill="#77b3d9" stroke="#c9c3c3" stroke-width="0.35"/>
<rect x="299.59" y="430.78" width="12.44" height="9.94" fill="#327dba" stroke="#c9c3c3" stroke-width="0.35"/>
<rect x="312.03" y="430.78" width="12.44" height="9.94" fill="#4491c6" stroke="#c9c3c3" stroke-width="0.35"/>
<rect x="324.47" y="430.78" width="12.44" height="9.94" fill="#2f78b7" stroke="#c9c3c3" stroke-width="0.35"/>
<rect x="336.91" y="430.78" width="12.44" height="9.94" fill="#3a89c2" stroke="#c9c3c3" stroke-width="0.35"/>
<rect x="349.35" y="430.78" width="12.44" height="9.94" fill="#cd2b3a" stroke="#c9c3c3" stroke-width="0.35"/>
<rect x="361.79" y="430.78" width="12.44" height="9.94" fill="#c6d9ee" stroke="#c9c3c3" stroke-width="0.35"/>
<rect x="374.23" y="430.78" width="12.44" height="9.94" fill="#f5b696" stroke="#c9c3c3" stroke-width="0.35"/>
<rect x="386.67" y="430.78" width="12.44" height="9.94" fill="#f6d6c4" stroke="#c9c3c3" stroke-width="0.35"/>
<rect x="399.11" y="430.78" width="12.44" height="9.94" fill="#f1e6e3" stroke="#c9c3c3" stroke-width="0.35"/>
<rect x="162.75" y="440.72" width="12.44" height="9.94" fill="#d8493b" stroke="#c9c3c3" stroke-width="0.35"/>
<rect x="175.19" y="440.72" width="12.44" height="9.94" fill="#f6d6c4" stroke="#c9c3c3" stroke-width="0.35"/>
<rect x="187.63" y="440.72" width="12.44" height="9.94" fill="#eeeaee" stroke="#c9c3c3" stroke-width="0.35"/>
<rect x="200.07" y="440.72" width="12.44" height="9.94" fill="#f5b696" stroke="#c9c3c3" stroke-width="0.35"/>
<rect x="212.51" y="440.72" width="12.44" height="9.94" fill="#f6d6c4" stroke="#c9c3c3" stroke-width="0.35"/>
<rect x="224.95" y="440.72" width="12.44" height="9.94" fill="#f1a282" stroke="#c9c3c3" stroke-width="0.35"/>
<rect x="237.39" y="440.72" width="12.44" height="9.94" fill="#d8493b" stroke="#c9c3c3" stroke-width="0.35"/>
<rect x="249.83" y="440.72" width="12.44" height="9.94" fill="#f6d6c4" stroke="#c9c3c3" stroke-width="0.35"/>
<rect x="262.27" y="440.72" width="12.44" height="9.94" fill="#61a6d1" stroke="#c9c3c3" stroke-width="0.35"/>
<rect x="274.71" y="440.72" width="12.44" height="9.94" fill="#e88465" stroke="#c9c3c3" stroke-width="0.35"/>
<rect x="287.15" y="440.72" width="12.44" height="9.94" fill="#bdd6ec" stroke="#c9c3c3" stroke-width="0.35"/>
<rect x="299.59" y="440.72" width="12.44" height="9.94" fill="#3a89c2" stroke="#c9c3c3" stroke-width="0.35"/>
<rect x="312.03" y="440.72" width="12.44" height="9.94" fill="#327dba" stroke="#c9c3c3" stroke-width="0.35"/>
<rect x="324.47" y="440.72" width="12.44" height="9.94" fill="#2b72b3" stroke="#c9c3c3" stroke-width="0.35"/>
<rect x="336.91" y="440.72" width="12.44" height="9.94" fill="#2f78b7" stroke="#c9c3c3" stroke-width="0.35"/>
<rect x="349.35" y="440.72" width="12.44" height="9.94" fill="#c6163a" stroke="#c9c3c3" stroke-width="0.35"/>
<rect x="361.79" y="440.72" width="12.44" height="9.94" fill="#efe9ea" stroke="#c9c3c3" stroke-width="0.35"/>
<rect x="374.23" y="440.72" width="12.44" height="9.94" fill="#abcee8" stroke="#c9c3c3" stroke-width="0.35"/>
<rect x="386.67" y="440.72" width="12.44" height="9.94" fill="#efe9ea" stroke="#c9c3c3" stroke-width="0.35"/>
<rect x="399.11" y="440.72" width="12.44" height="9.94" fill="#e1e5ee" stroke="#c9c3c3" stroke-width="0.35"/>
<rect x="162.75" y="450.66" width="12.44" height="9.94" fill="#e16a50" stroke="#c9c3c3" stroke-width="0.35"/>
<rect x="175.19" y="450.66" width="12.44" height="9.94" fill="#61a6d1" stroke="#c9c3c3" stroke-width="0.35"/>
<rect x="187.63" y="450.66" width="12.44" height="9.94" fill="#8dc0e0" stroke="#c9c3c3" stroke-width="0.35"/>
<rect x="200.07" y="450.66" width="12.44" height="9.94" fill="#d8e1ef" stroke="#c9c3c3" stroke-width="0.35"/>
<rect x="212.51" y="450.66" width="12.44" height="9.94" fill="#e16a50" stroke="#c9c3c3" stroke-width="0.35"/>
<rect x="224.95" y="450.66" width="12.44" height="9.94" fill="#f1e6e3" stroke="#c9c3c3" stroke-width="0.35"/>
<rect x="237.39" y="450.66" width="12.44" height="9.94" fill="#f8caab" stroke="#c9c3c3" stroke-width="0.35"/>
<rect x="249.83" y="450.66" width="12.44" height="9.94" fill="#ee9878" stroke="#c9c3c3" stroke-width="0.35"/>
<rect x="262.27" y="450.66" width="12.44" height="9.94" fill="#b51335" stroke="#c9c3c3" stroke-width="0.35"/>
<rect x="274.71" y="450.66" width="12.44" height="9.94" fill="#ceddef" stroke="#c9c3c3" stroke-width="0.35"/>
<rect x="287.15" y="450.66" width="12.44" height="9.94" fill="#4f99ca" stroke="#c9c3c3" stroke-width="0.35"/>
<rect x="299.59" y="450.66" width="12.44" height="9.94" fill="#3a89c2" stroke="#c9c3c3" stroke-width="0.35"/>
<rect x="312.03" y="450.66" width="12.44" height="9.94" fill="#3683be" stroke="#c9c3c3" stroke-width="0.35"/>
<rect x="324.47" y="450.66" width="12.44" height="9.94" fill="#3a89c2" stroke="#c9c3c3" stroke-width="0.35"/>
<rect x="336.91" y="450.66" width="12.44" height="9.94" fill="#3a89c2" stroke="#c9c3c3" stroke-width="0.35"/>
<rect x="349.35" y="450.66" width="12.44" height="9.94" fill="#f6d6c4" stroke="#c9c3c3" stroke-width="0.35"/>
<rect x="361.79" y="450.66" width="12.44" height="9.94" fill="#d1353b" stroke="#c9c3c3" stroke-width="0.35"/>
<rect x="374.23" y="450.66" width="12.44" height="9.94" fill="#eb8e6e" stroke="#c9c3c3" stroke-width="0.35"/>
<rect x="386.67" y="450.66" width="12.44" height="9.94" fill="#efe9ea" stroke="#c9c3c3" stroke-width="0.35"/>
<rect x="399.11" y="450.66" width="12.44" height="9.94" fill="#e1e5ee" stroke="#c9c3c3" stroke-width="0.35"/>
<rect x="162.75" y="460.60" width="12.44" height="9.94" fill="#dc5946" stroke="#c9c3c3" stroke-width="0.35"/>
<rect x="175.19" y="460.60" width="12.44" height="9.94" fill="#f6d6c4" stroke="#c9c3c3" stroke-width="0.35"/>
<rect x="187.63" y="460.60" width="12.44" height="9.94" fill="#f1a282" stroke="#c9c3c3" stroke-width="0.35"/>
<rect x="200.07" y="460.60" width="12.44" height="9.94" fill="#ceddef" stroke="#c9c3c3" stroke-width="0.35"/>
<rect x="212.51" y="460.60" width="12.44" height="9.94" fill="#f6d6c4" stroke="#c9c3c3" stroke-width="0.35"/>
<rect x="224.95" y="460.60" width="12.44" height="9.94" fill="#f3e3dc" stroke="#c9c3c3" stroke-width="0.35"/>
<rect x="237.39" y="460.60" width="12.44" height="9.94" fill="#f5b696" stroke="#c9c3c3" stroke-width="0.35"/>
<rect x="249.83" y="460.60" width="12.44" height="9.94" fill="#d43f3b" stroke="#c9c3c3" stroke-width="0.35"/>
<rect x="262.27" y="460.60" width="12.44" height="9.94" fill="#e57a5b" stroke="#c9c3c3" stroke-width="0.35"/>
<rect x="274.71" y="460.60" width="12.44" height="9.94" fill="#abcee8" stroke="#c9c3c3" stroke-width="0.35"/>
<rect x="287.15" y="460.60" width="12.44" height="9.94" fill="#61a6d1" stroke="#c9c3c3" stroke-width="0.35"/>
<rect x="299.59" y="460.60" width="12.44" height="9.94" fill="#2f78b7" stroke="#c9c3c3" stroke-width="0.35"/>
<rect x="312.03" y="460.60" width="12.44" height="9.94" fill="#3683be" stroke="#c9c3c3" stroke-width="0.35"/>
<rect x="324.47" y="460.60" width="12.44" height="9.94" fill="#4f99ca" stroke="#c9c3c3" stroke-width="0.35"/>
<rect x="336.91" y="460.60" width="12.44" height="9.94" fill="#2364a7" stroke="#c9c3c3" stroke-width="0.35"/>
<rect x="349.35" y="460.60" width="12.44" height="9.94" fill="#c6163a" stroke="#c9c3c3" stroke-width="0.35"/>
<rect x="361.79" y="460.60" width="12.44" height="9.94" fill="#f6d6c4" stroke="#c9c3c3" stroke-width="0.35"/>
<rect x="374.23" y="460.60" width="12.44" height="9.94" fill="#f5b696" stroke="#c9c3c3" stroke-width="0.35"/>
<rect x="386.67" y="460.60" width="12.44" height="9.94" fill="#d8e1ef" stroke="#c9c3c3" stroke-width="0.35"/>
<rect x="399.11" y="460.60" width="12.44" height="9.94" fill="#9cc7e4" stroke="#c9c3c3" stroke-width="0.35"/>
<rect x="162.75" y="470.54" width="12.44" height="9.94" fill="#f8caab" stroke="#c9c3c3" stroke-width="0.35"/>
<rect x="175.19" y="470.54" width="12.44" height="9.94" fill="#f6d6c4" stroke="#c9c3c3" stroke-width="0.35"/>
<rect x="187.63" y="470.54" width="12.44" height="9.94" fill="#bf1438" stroke="#c9c3c3" stroke-width="0.35"/>
<rect x="200.07" y="470.54" width="12.44" height="9.94" fill="#abcee8" stroke="#c9c3c3" stroke-width="0.35"/>
<rect x="212.51" y="470.54" width="12.44" height="9.94" fill="#f8caab" stroke="#c9c3c3" stroke-width="0.35"/>
<rect x="224.95" y="470.54" width="12.44" height="9.94" fill="#dce3ee" stroke="#c9c3c3" stroke-width="0.35"/>
<rect x="237.39" y="470.54" width="12.44" height="9.94" fill="#ee9878" stroke="#c9c3c3" stroke-width="0.35"/>
<rect x="249.83" y="470.54" width="12.44" height="9.94" fill="#f6d6c4" stroke="#c9c3c3" stroke-width="0.35"/>
<rect x="262.27" y="470.54" width="12.44" height="9.94" fill="#d8493b" stroke="#c9c3c3" stroke-width="0.35"/>
<rect x="274.71" y="470.54" width="12.44" height="9.94" fill="#ceddef" stroke="#c9c3c3" stroke-width="0.35"/>
<rect x="287.15" y="470.54" width="12.44" height="9.94" fill="#327dba" stroke="#c9c3c3" stroke-width="0.35"/>
<rect x="299.59" y="470.54" width="12.44" height="9.94" fill="#61a6d1" stroke="#c9c3c3" stroke-width="0.35"/>
<rect x="312.03" y="470.54" width="12.44" height="9.94" fill="#3683be" stroke="#c9c3c3" stroke-width="0.35"/>
<rect x="324.47" y="470.54" width="12.44" height="9.94" fill="#61a6d1" stroke="#c9c3c3" stroke-width="0.35"/>
<rect x="336.91" y="470.54" width="12.44" height="9.94" fill="#3a89c2" stroke="#c9c3c3" stroke-width="0.35"/>
<rect x="349.35" y="470.54" width="12.44" height="9.94" fill="#9cc7e4" stroke="#c9c3c3" stroke-width="0.35"/>
<rect x="361.79" y="470.54" width="12.44" height="9.94" fill="#f3e3dc" stroke="#c9c3c3" stroke-width="0.35"/>
<rect x="374.23" y="470.54" width="12.44" height="9.94" fill="#f3e3dc" stroke="#c9c3c3" stroke-width="0.35"/>
<rect x="386.67" y="470.54" width="12.44" height="9.94" fill="#f8caab" stroke="#c9c3c3" stroke-width="0.35"/>
<rect x="399.11" y="470.54" width="12.44" height="9.94" fill="#bf1438" stroke="#c9c3c3" stroke-width="0.35"/>
<rect x="162.75" y="480.48" width="12.44" height="9.94" fill="#bf1438" stroke="#c9c3c3" stroke-width="0.35"/>
<rect x="175.19" y="480.48" width="12.44" height="9.94" fill="#f6d6c4" stroke="#c9c3c3" stroke-width="0.35"/>
<rect x="187.63" y="480.48" width="12.44" height="9.94" fill="#abcee8" stroke="#c9c3c3" stroke-width="0.35"/>
<rect x="200.07" y="480.48" width="12.44" height="9.94" fill="#e1e5ee" stroke="#c9c3c3" stroke-width="0.35"/>
<rect x="212.51" y="480.48" width="12.44" height="9.94" fill="#d8e1ef" stroke="#c9c3c3" stroke-width="0.35"/>
<rect x="224.95" y="480.48" width="12.44" height="9.94" fill="#61a6d1" stroke="#c9c3c3" stroke-width="0.35"/>
<rect x="237.39" y="480.48" width="12.44" height="9.94" fill="#ceddef" stroke="#c9c3c3" stroke-width="0.35"/>
<rect x="249.83" y="480.48" width="12.44" height="9.94" fill="#e88465" stroke="#c9c3c3" stroke-width="0.35"/>
<rect x="262.27" y="480.48" width="12.44" height="9.94" fill="#dc5946" stroke="#c9c3c3" stroke-width="0.35"/>
<rect x="274.71" y="480.48" width="12.44" height="9.94" fill="#f1a282" stroke="#c9c3c3" stroke-width="0.35"/>
<rect x="287.15" y="480.48" width="12.44" height="9.94" fill="#4f99ca" stroke="#c9c3c3" stroke-width="0.35"/>
<rect x="299.59" y="480.48" width="12.44" height="9.94" fill="#61a6d1" stroke="#c9c3c3" stroke-width="0.35"/>
<rect x="312.03" y="480.48" width="12.44" height="9.94" fill="#4491c6" stroke="#c9c3c3" stroke-width="0.35"/>
<rect x="324.47" y="480.48" width="12.44" height="9.94" fill="#3a89c2" stroke="#c9c3c3" stroke-width="0.35"/>
<rect x="336.91" y="480.48" width="12.44" height="9.94" fill="#3a89c2" stroke="#c9c3c3" stroke-width="0.35"/>
<rect x="349.35" y="480.48" width="12.44" height="9.94" fill="#ceddef" stroke="#c9c3c3" stroke-width="0.35"/>
<rect x="361.79" y="480.48" width="12.44" height="9.94" fill="#f3e3dc" stroke="#c9c3c3" stroke-width="0.35"/>
<rect x="374.23" y="480.48" width="12.44" height="9.94" fill="#dce3ee" stroke="#c9c3c3" stroke-width="0.35"/>
<rect x="386.67" y="480.48" width="12.44" height="9.94" fill="#f5b696" stroke="#c9c3c3" stroke-width="0.35"/>
<rect x="399.11" y="480.48" width="12.44" height="9.94" fill="#bf1438" stroke="#c9c3c3" stroke-width="0.35"/>
<rect x="162.75" y="490.42" width="12.44" height="9.94" fill="#f6d6c4" stroke="#c9c3c3" stroke-width="0.35"/>
<rect x="175.19" y="490.42" width="12.44" height="9.94" fill="#e88465" stroke="#c9c3c3" stroke-width="0.35"/>
<rect x="187.63" y="490.42" width="12.44" height="9.94" fill="#c6163a" stroke="#c9c3c3" stroke-width="0.35"/>
<rect x="200.07" y="490.42" width="12.44" height="9.94" fill="#8dc0e0" stroke="#c9c3c3" stroke-width="0.35"/>
<rect x="212.51" y="490.42" width="12.44" height="9.94" fill="#ceddef" stroke="#c9c3c3" stroke-width="0.35"/>
<rect x="224.95" y="490.42" width="12.44" height="9.94" fill="#e88465" stroke="#c9c3c3" stroke-width="0.35"/>
<rect x="237.39" y="490.42" width="12.44" height="9.94" fill="#f5dfd4" stroke="#c9c3c3" stroke-width="0.35"/>
<rect x="249.83" y="490.42" width="12.44" height="9.94" fill="#e88465" stroke="#c9c3c3" stroke-width="0.35"/>
<rect x="262.27" y="490.42" width="12.44" height="9.94" fill="#eeeaec" stroke="#c9c3c3" stroke-width="0.35"/>
<rect x="274.71" y="490.42" width="12.44" height="9.94" fill="#f3e3dc" stroke="#c9c3c3" stroke-width="0.35"/>
<rect x="287.15" y="490.42" width="12.44" height="9.94" fill="#77b3d9" stroke="#c9c3c3" stroke-width="0.35"/>
<rect x="299.59" y="490.42" width="12.44" height="9.94" fill="#3683be" stroke="#c9c3c3" stroke-width="0.35"/>
<rect x="312.03" y="490.42" width="12.44" height="9.94" fill="#3a89c2" stroke="#c9c3c3" stroke-width="0.35"/>
<rect x="324.47" y="490.42" width="12.44" height="9.94" fill="#286daf" stroke="#c9c3c3" stroke-width="0.35"/>
<rect x="336.91" y="490.42" width="12.44" height="9.94" fill="#3a89c2" stroke="#c9c3c3" stroke-width="0.35"/>
<rect x="349.35" y="490.42" width="12.44" height="9.94" fill="#f5b696" stroke="#c9c3c3" stroke-width="0.35"/>
<rect x="361.79" y="490.42" width="12.44" height="9.94" fill="#abcee8" stroke="#c9c3c3" stroke-width="0.35"/>
<rect x="374.23" y="490.42" width="12.44" height="9.94" fill="#ceddef" stroke="#c9c3c3" stroke-width="0.35"/>
<rect x="386.67" y="490.42" width="12.44" height="9.94" fill="#c6163a" stroke="#c9c3c3" stroke-width="0.35"/>
<rect x="399.11" y="490.42" width="12.44" height="9.94" fill="#f5b696" stroke="#c9c3c3" stroke-width="0.35"/>
<rect x="162.75" y="500.36" width="12.44" height="9.94" fill="#e16a50" stroke="#c9c3c3" stroke-width="0.35"/>
<rect x="175.19" y="500.36" width="12.44" height="9.94" fill="#e1e5ee" stroke="#c9c3c3" stroke-width="0.35"/>
<rect x="187.63" y="500.36" width="12.44" height="9.94" fill="#c6163a" stroke="#c9c3c3" stroke-width="0.35"/>
<rect x="200.07" y="500.36" width="12.44" height="9.94" fill="#ceddef" stroke="#c9c3c3" stroke-width="0.35"/>
<rect x="212.51" y="500.36" width="12.44" height="9.94" fill="#f6d6c4" stroke="#c9c3c3" stroke-width="0.35"/>
<rect x="224.95" y="500.36" width="12.44" height="9.94" fill="#d43f3b" stroke="#c9c3c3" stroke-width="0.35"/>
<rect x="237.39" y="500.36" width="12.44" height="9.94" fill="#bf1438" stroke="#c9c3c3" stroke-width="0.35"/>
<rect x="249.83" y="500.36" width="12.44" height="9.94" fill="#e88465" stroke="#c9c3c3" stroke-width="0.35"/>
<rect x="262.27" y="500.36" width="12.44" height="9.94" fill="#9cc7e4" stroke="#c9c3c3" stroke-width="0.35"/>
<rect x="274.71" y="500.36" width="12.44" height="9.94" fill="#d8e1ef" stroke="#c9c3c3" stroke-width="0.35"/>
<rect x="287.15" y="500.36" width="12.44" height="9.94" fill="#2f78b7" stroke="#c9c3c3" stroke-width="0.35"/>
<rect x="299.59" y="500.36" width="12.44" height="9.94" fill="#4f99ca" stroke="#c9c3c3" stroke-width="0.35"/>
<rect x="312.03" y="500.36" width="12.44" height="9.94" fill="#4f99ca" stroke="#c9c3c3" stroke-width="0.35"/>
<rect x="324.47" y="500.36" width="12.44" height="9.94" fill="#3683be" stroke="#c9c3c3" stroke-width="0.35"/>
<rect x="336.91" y="500.36" width="12.44" height="9.94" fill="#61a6d1" stroke="#c9c3c3" stroke-width="0.35"/>
<rect x="349.35" y="500.36" width="12.44" height="9.94" fill="#d8e1ef" stroke="#c9c3c3" stroke-width="0.35"/>
<rect x="361.79" y="500.36" width="12.44" height="9.94" fill="#ceddef" stroke="#c9c3c3" stroke-width="0.35"/>
<rect x="374.23" y="500.36" width="12.44" height="9.94" fill="#f5dfd4" stroke="#c9c3c3" stroke-width="0.35"/>
<rect x="386.67" y="500.36" width="12.44" height="9.94" fill="#efe9ea" stroke="#c9c3c3" stroke-width="0.35"/>
<rect x="399.11" y="500.36" width="12.44" height="9.94" fill="#efe9ea" stroke="#c9c3c3" stroke-width="0.35"/>
<rect x="162.75" y="510.30" width="12.44" height="9.94" fill="#f8caab" stroke="#c9c3c3" stroke-width="0.35"/>
<rect x="175.19" y="510.30" width="12.44" height="9.94" fill="#ceddef" stroke="#c9c3c3" stroke-width="0.35"/>
<rect x="187.63" y="510.30" width="12.44" height="9.94" fill="#ceddef" stroke="#c9c3c3" stroke-width="0.35"/>
<rect x="200.07" y="510.30" width="12.44" height="9.94" fill="#e16a50" stroke="#c9c3c3" stroke-width="0.35"/>
<rect x="212.51" y="510.30" width="12.44" height="9.94" fill="#f1a282" stroke="#c9c3c3" stroke-width="0.35"/>
<rect x="224.95" y="510.30" width="12.44" height="9.94" fill="#eb8e6e" stroke="#c9c3c3" stroke-width="0.35"/>
<rect x="237.39" y="510.30" width="12.44" height="9.94" fill="#bf1438" stroke="#c9c3c3" stroke-width="0.35"/>
<rect x="249.83" y="510.30" width="12.44" height="9.94" fill="#bdd6ec" stroke="#c9c3c3" stroke-width="0.35"/>
<rect x="262.27" y="510.30" width="12.44" height="9.94" fill="#9cc7e4" stroke="#c9c3c3" stroke-width="0.35"/>
<rect x="274.71" y="510.30" width="12.44" height="9.94" fill="#dc5946" stroke="#c9c3c3" stroke-width="0.35"/>
<rect x="287.15" y="510.30" width="12.44" height="9.94" fill="#4491c6" stroke="#c9c3c3" stroke-width="0.35"/>
<rect x="299.59" y="510.30" width="12.44" height="9.94" fill="#2b72b3" stroke="#c9c3c3" stroke-width="0.35"/>
<rect x="312.03" y="510.30" width="12.44" height="9.94" fill="#abcee8" stroke="#c9c3c3" stroke-width="0.35"/>
<rect x="324.47" y="510.30" width="12.44" height="9.94" fill="#2b72b3" stroke="#c9c3c3" stroke-width="0.35"/>
<rect x="336.91" y="510.30" width="12.44" height="9.94" fill="#4491c6" stroke="#c9c3c3" stroke-width="0.35"/>
<rect x="349.35" y="510.30" width="12.44" height="9.94" fill="#d8e1ef" stroke="#c9c3c3" stroke-width="0.35"/>
<rect x="361.79" y="510.30" width="12.44" height="9.94" fill="#d8493b" stroke="#c9c3c3" stroke-width="0.35"/>
<rect x="374.23" y="510.30" width="12.44" height="9.94" fill="#f6d6c4" stroke="#c9c3c3" stroke-width="0.35"/>
<rect x="386.67" y="510.30" width="12.44" height="9.94" fill="#abcee8" stroke="#c9c3c3" stroke-width="0.35"/>
<rect x="399.11" y="510.30" width="12.44" height="9.94" fill="#f3e3dc" stroke="#c9c3c3" stroke-width="0.35"/>
<rect x="162.75" y="520.24" width="12.44" height="9.94" fill="#eeeaee" stroke="#c9c3c3" stroke-width="0.35"/>
<rect x="175.19" y="520.24" width="12.44" height="9.94" fill="#ceddef" stroke="#c9c3c3" stroke-width="0.35"/>
<rect x="187.63" y="520.24" width="12.44" height="9.94" fill="#e57a5b" stroke="#c9c3c3" stroke-width="0.35"/>
<rect x="200.07" y="520.24" width="12.44" height="9.94" fill="#a0102f" stroke="#c9c3c3" stroke-width="0.35"/>
<rect x="212.51" y="520.24" width="12.44" height="9.94" fill="#f8caab" stroke="#c9c3c3" stroke-width="0.35"/>
<rect x="224.95" y="520.24" width="12.44" height="9.94" fill="#f6d6c4" stroke="#c9c3c3" stroke-width="0.35"/>
<rect x="237.39" y="520.24" width="12.44" height="9.94" fill="#f1e6e3" stroke="#c9c3c3" stroke-width="0.35"/>
<rect x="249.83" y="520.24" width="12.44" height="9.94" fill="#f5dfd4" stroke="#c9c3c3" stroke-width="0.35"/>
<rect x="262.27" y="520.24" width="12.44" height="9.94" fill="#eb8e6e" stroke="#c9c3c3" stroke-width="0.35"/>
<rect x="274.71" y="520.24" width="12.44" height="9.94" fill="#77b3d9" stroke="#c9c3c3" stroke-width="0.35"/>
<rect x="287.15" y="520.24" width="12.44" height="9.94" fill="#327dba" stroke="#c9c3c3" stroke-width="0.35"/>
<rect x="299.59" y="520.24" width="12.44" height="9.94" fill="#4f99ca" stroke="#c9c3c3" stroke-width="0.35"/>
<rect x="312.03" y="520.24" width="12.44" height="9.94" fill="#2b72b3" stroke="#c9c3c3" stroke-width="0.35"/>
<rect x="324.47" y="520.24" width="12.44" height="9.94" fill="#286daf" stroke="#c9c3c3" stroke-width="0.35"/>
<rect x="336.91" y="520.24" width="12.44" height="9.94" fill="#bdd6ec" stroke="#c9c3c3" stroke-width="0.35"/>
<rect x="349.35" y="520.24" width="12.44" height="9.94" fill="#f6d6c4" stroke="#c9c3c3" stroke-width="0.35"/>
<rect x="361.79" y="520.24" width="12.44" height="9.94" fill="#f7d0b7" stroke="#c9c3c3" stroke-width="0.35"/>
<rect x="374.23" y="520.24" width="12.44" height="9.94" fill="#f3e3dc" stroke="#c9c3c3" stroke-width="0.35"/>
<rect x="386.67" y="520.24" width="12.44" height="9.94" fill="#f1a282" stroke="#c9c3c3" stroke-width="0.35"/>
<rect x="399.11" y="520.24" width="12.44" height="9.94" fill="#f5b696" stroke="#c9c3c3" stroke-width="0.35"/>
<rect x="162.75" y="530.18" width="12.44" height="9.94" fill="#8dc0e0" stroke="#c9c3c3" stroke-width="0.35"/>
<rect x="175.19" y="530.18" width="12.44" height="9.94" fill="#bdd6ec" stroke="#c9c3c3" stroke-width="0.35"/>
<rect x="187.63" y="530.18" width="12.44" height="9.94" fill="#d43f3b" stroke="#c9c3c3" stroke-width="0.35"/>
<rect x="200.07" y="530.18" width="12.44" height="9.94" fill="#d8e1ef" stroke="#c9c3c3" stroke-width="0.35"/>
<rect x="212.51" y="530.18" width="12.44" height="9.94" fill="#cd2b3a" stroke="#c9c3c3" stroke-width="0.35"/>
<rect x="224.95" y="530.18" width="12.44" height="9.94" fill="#e8e7ee" stroke="#c9c3c3" stroke-width="0.35"/>
<rect x="237.39" y="530.18" width="12.44" height="9.94" fill="#f6d6c4" stroke="#c9c3c3" stroke-width="0.35"/>
<rect x="249.83" y="530.18" width="12.44" height="9.94" fill="#f5b696" stroke="#c9c3c3" stroke-width="0.35"/>
<rect x="262.27" y="530.18" width="12.44" height="9.94" fill="#dce3ee" stroke="#c9c3c3" stroke-width="0.35"/>
<rect x="274.71" y="530.18" width="12.44" height="9.94" fill="#d8493b" stroke="#c9c3c3" stroke-width="0.35"/>
<rect x="287.15" y="530.18" width="12.44" height="9.94" fill="#abcee8" stroke="#c9c3c3" stroke-width="0.35"/>
<rect x="299.59" y="530.18" width="12.44" height="9.94" fill="#3683be" stroke="#c9c3c3" stroke-width="0.35"/>
<rect x="312.03" y="530.18" width="12.44" height="9.94" fill="#215ea0" stroke="#c9c3c3" stroke-width="0.35"/>
<rect x="324.47" y="530.18" width="12.44" height="9.94" fill="#3683be" stroke="#c9c3c3" stroke-width="0.35"/>
<rect x="336.91" y="530.18" width="12.44" height="9.94" fill="#77b3d9" stroke="#c9c3c3" stroke-width="0.35"/>
<rect x="349.35" y="530.18" width="12.44" height="9.94" fill="#e16a50" stroke="#c9c3c3" stroke-width="0.35"/>
<rect x="361.79" y="530.18" width="12.44" height="9.94" fill="#f5b696" stroke="#c9c3c3" stroke-width="0.35"/>
<rect x="374.23" y="530.18" width="12.44" height="9.94" fill="#f8caab" stroke="#c9c3c3" stroke-width="0.35"/>
<rect x="386.67" y="530.18" width="12.44" height="9.94" fill="#ceddef" stroke="#c9c3c3" stroke-width="0.35"/>
<rect x="399.11" y="530.18" width="12.44" height="9.94" fill="#f7c0a0" stroke="#c9c3c3" stroke-width="0.35"/>
<rect x="162.75" y="540.12" width="12.44" height="9.94" fill="#eb8e6e" stroke="#c9c3c3" stroke-width="0.35"/>
<rect x="175.19" y="540.12" width="12.44" height="9.94" fill="#eeeaee" stroke="#c9c3c3" stroke-width="0.35"/>
<rect x="187.63" y="540.12" width="12.44" height="9.94" fill="#f3e3dc" stroke="#c9c3c3" stroke-width="0.35"/>
<rect x="200.07" y="540.12" width="12.44" height="9.94" fill="#4f99ca" stroke="#c9c3c3" stroke-width="0.35"/>
<rect x="212.51" y="540.12" width="12.44" height="9.94" fill="#d8493b" stroke="#c9c3c3" stroke-width="0.35"/>
<rect x="224.95" y="540.12" width="12.44" height="9.94" fill="#e88465" stroke="#c9c3c3" stroke-width="0.35"/>
<rect x="237.39" y="540.12" width="12.44" height="9.94" fill="#f3e3dc" stroke="#c9c3c3" stroke-width="0.35"/>
<rect x="249.83" y="540.12" width="12.44" height="9.94" fill="#f1e6e3" stroke="#c9c3c3" stroke-width="0.35"/>
<rect x="262.27" y="540.12" width="12.44" height="9.94" fill="#f8caab" stroke="#c9c3c3" stroke-width="0.35"/>
<rect x="274.71" y="540.12" width="12.44" height="9.94" fill="#efe9ea" stroke="#c9c3c3" stroke-width="0.35"/>
<rect x="287.15" y="540.12" width="12.44" height="9.94" fill="#3a89c2" stroke="#c9c3c3" stroke-width="0.35"/>
<rect x="299.59" y="540.12" width="12.44" height="9.94" fill="#2f78b7" stroke="#c9c3c3" stroke-width="0.35"/>
<rect x="312.03" y="540.12" width="12.44" height="9.94" fill="#327dba" stroke="#c9c3c3" stroke-width="0.35"/>
<rect x="324.47" y="540.12" width="12.44" height="9.94" fill="#61a6d1" stroke="#c9c3c3" stroke-width="0.35"/>
<rect x="336.91" y="540.12" width="12.44" height="9.94" fill="#3683be" stroke="#c9c3c3" stroke-width="0.35"/>
<rect x="349.35" y="540.12" width="12.44" height="9.94" fill="#e16a50" stroke="#c9c3c3" stroke-width="0.35"/>
<rect x="361.79" y="540.12" width="12.44" height="9.94" fill="#eeeaee" stroke="#c9c3c3" stroke-width="0.35"/>
<rect x="374.23" y="540.12" width="12.44" height="9.94" fill="#f3e3dc" stroke="#c9c3c3" stroke-width="0.35"/>
<rect x="386.67" y="540.12" width="12.44" height="9.94" fill="#eb8e6e" stroke="#c9c3c3" stroke-width="0.35"/>
<rect x="399.11" y="540.12" width="12.44" height="9.94" fill="#d43f3b" stroke="#c9c3c3" stroke-width="0.35"/>
<rect x="162.75" y="550.06" width="12.44" height="9.94" fill="#f8caab" stroke="#c9c3c3" stroke-width="0.35"/>
<rect x="175.19" y="550.06" width="12.44" height="9.94" fill="#f1a282" stroke="#c9c3c3" stroke-width="0.35"/>
<rect x="187.63" y="550.06" width="12.44" height="9.94" fill="#eb8e6e" stroke="#c9c3c3" stroke-width="0.35"/>
<rect x="200.07" y="550.06" width="12.44" height="9.94" fill="#ceddef" stroke="#c9c3c3" stroke-width="0.35"/>
<rect x="212.51" y="550.06" width="12.44" height="9.94" fill="#eeeaec" stroke="#c9c3c3" stroke-width="0.35"/>
<rect x="224.95" y="550.06" width="12.44" height="9.94" fill="#f7d0b7" stroke="#c9c3c3" stroke-width="0.35"/>
<rect x="237.39" y="550.06" width="12.44" height="9.94" fill="#f3e3dc" stroke="#c9c3c3" stroke-width="0.35"/>
<rect x="249.83" y="550.06" width="12.44" height="9.94" fill="#f1e6e3" stroke="#c9c3c3" stroke-width="0.35"/>
<rect x="262.27" y="550.06" width="12.44" height="9.94" fill="#f5b696" stroke="#c9c3c3" stroke-width="0.35"/>
<rect x="274.71" y="550.06" width="12.44" height="9.94" fill="#e67f60" stroke="#c9c3c3" stroke-width="0.35"/>
<rect x="287.15" y="550.06" width="12.44" height="9.94" fill="#3683be" stroke="#c9c3c3" stroke-width="0.35"/>
<rect x="299.59" y="550.06" width="12.44" height="9.94" fill="#4491c6" stroke="#c9c3c3" stroke-width="0.35"/>
<rect x="312.03" y="550.06" width="12.44" height="9.94" fill="#2f78b7" stroke="#c9c3c3" stroke-width="0.35"/>
<rect x="324.47" y="550.06" width="12.44" height="9.94" fill="#327dba" stroke="#c9c3c3" stroke-width="0.35"/>
<rect x="336.91" y="550.06" width="12.44" height="9.94" fill="#327dba" stroke="#c9c3c3" stroke-width="0.35"/>
<rect x="349.35" y="550.06" width="12.44" height="9.94" fill="#f1a282" stroke="#c9c3c3" stroke-width="0.35"/>
<rect x="361.79" y="550.06" width="12.44" height="9.94" fill="#d43f3b" stroke="#c9c3c3" stroke-width="0.35"/>
<rect x="374.23" y="550.06" width="12.44" height="9.94" fill="#eb8e6e" stroke="#c9c3c3" stroke-width="0.35"/>
<rect x="386.67" y="550.06" width="12.44" height="9.94" fill="#f5dfd4" stroke="#c9c3c3" stroke-width="0.35"/>
<rect x="399.11" y="550.06" width="12.44" height="9.94" fill="#dce3ee" stroke="#c9c3c3" stroke-width="0.35"/>
<rect x="162.75" y="560.00" width="12.44" height="9.94" fill="#e57a5b" stroke="#c9c3c3" stroke-width="0.35"/>
<rect x="175.19" y="560.00" width="12.44" height="9.94" fill="#9cc7e4" stroke="#c9c3c3" stroke-width="0.35"/>
<rect x="187.63" y="560.00" width="12.44" height="9.94" fill="#f1a282" stroke="#c9c3c3" stroke-width="0.35"/>
<rect x="200.07" y="560.00" width="12.44" height="9.94" fill="#f1a282" stroke="#c9c3c3" stroke-width="0.35"/>
<rect x="212.51" y="560.00" width="12.44" height="9.94" fill="#f6d6c4" stroke="#c9c3c3" stroke-width="0.35"/>
<rect x="224.95" y="560.00" width="12.44" height="9.94" fill="#f5b696" stroke="#c9c3c3" stroke-width="0.35"/>
<rect x="237.39" y="560.00" width="12.44" height="9.94" fill="#9cc7e4" stroke="#c9c3c3" stroke-width="0.35"/>
<rect x="249.83" y="560.00" width="12.44" height="9.94" fill="#f8caab" stroke="#c9c3c3" stroke-width="0.35"/>
<rect x="262.27" y="560.00" width="12.44" height="9.94" fill="#efe9ea" stroke="#c9c3c3" stroke-width="0.35"/>
<rect x="274.71" y="560.00" width="12.44" height="9.94" fill="#f8caab" stroke="#c9c3c3" stroke-width="0.35"/>
<rect x="287.15" y="560.00" width="12.44" height="9.94" fill="#2364a7" stroke="#c9c3c3" stroke-width="0.35"/>
<rect x="299.59" y="560.00" width="12.44" height="9.94" fill="#61a6d1" stroke="#c9c3c3" stroke-width="0.35"/>
<rect x="312.03" y="560.00" width="12.44" height="9.94" fill="#2f78b7" stroke="#c9c3c3" stroke-width="0.35"/>
<rect x="324.47" y="560.00" width="12.44" height="9.94" fill="#4491c6" stroke="#c9c3c3" stroke-width="0.35"/>
<rect x="336.91" y="560.00" width="12.44" height="9.94" fill="#3a89c2" stroke="#c9c3c3" stroke-width="0.35"/>
<rect x="349.35" y="560.00" width="12.44" height="9.94" fill="#e57a5b" stroke="#c9c3c3" stroke-width="0.35"/>
<rect x="361.79" y="560.00" width="12.44" height="9.94" fill="#e88465" stroke="#c9c3c3" stroke-width="0.35"/>
<rect x="374.23" y="560.00" width="12.44" height="9.94" fill="#eeeaec" stroke="#c9c3c3" stroke-width="0.35"/>
<rect x="386.67" y="560.00" width="12.44" height="9.94" fill="#f1a282" stroke="#c9c3c3" stroke-width="0.35"/>
<rect x="399.11" y="560.00" width="12.44" height="9.94" fill="#f5b696" stroke="#c9c3c3" stroke-width="0.35"/>
<rect x="162.95" y="405.50" width="12.04" height="3.60" fill="#1b4a88"/>
<rect x="175.39" y="405.50" width="12.04" height="3.60" fill="#1b4a88"/>
<rect x="187.83" y="405.50" width="12.04" height="3.60" fill="#1b4a88"/>
<rect x="200.27" y="405.50" width="12.04" height="3.60" fill="#1b4a88"/>
<rect x="212.71" y="405.50" width="12.04" height="3.60" fill="#1b4a88"/>
<rect x="225.15" y="405.50" width="12.04" height="3.60" fill="#f3900c"/>
<rect x="237.59" y="405.50" width="12.04" height="3.60" fill="#f3900c"/>
<rect x="250.03" y="405.50" width="12.04" height="3.60" fill="#f3900c"/>
<rect x="262.47" y="405.50" width="12.04" height="3.60" fill="#f3900c"/>
<rect x="274.91" y="405.50" width="12.04" height="3.60" fill="#f3900c"/>
<rect x="287.35" y="405.50" width="12.04" height="3.60" fill="#c8102e"/>
<rect x="299.79" y="405.50" width="12.04" height="3.60" fill="#c8102e"/>
<rect x="312.23" y="405.50" width="12.04" height="3.60" fill="#c8102e"/>
<rect x="324.67" y="405.50" width="12.04" height="3.60" fill="#c8102e"/>
<rect x="337.11" y="405.50" width="12.04" height="3.60" fill="#c8102e"/>
<rect x="349.55" y="405.50" width="12.04" height="3.60" fill="#9487c5"/>
<rect x="361.99" y="405.50" width="12.04" height="3.60" fill="#9487c5"/>
<rect x="374.43" y="405.50" width="12.04" height="3.60" fill="#9487c5"/>
<rect x="386.87" y="405.50" width="12.04" height="3.60" fill="#9487c5"/>
<rect x="399.31" y="405.50" width="12.04" height="3.60" fill="#9487c5"/>
<text x="194.8" y="401.6" font-size="8.6" fill="#1b4a88" text-anchor="middle" textLength="43.1" lengthAdjust="spacingAndGlyphs" stroke="#1b4a88" stroke-width="0.1">WT+vector</text>
<text x="256.3" y="401.6" font-size="8.6" fill="#f0a03a" text-anchor="middle" textLength="37.0" lengthAdjust="spacingAndGlyphs" stroke="#f0a03a" stroke-width="0.1">WT+PGD</text>
<text x="317.7" y="401.6" font-size="8.6" fill="#b5152f" text-anchor="middle" textLength="42.0" lengthAdjust="spacingAndGlyphs" stroke="#b5152f" stroke-width="0.1">KO+vector</text>
<text x="379.5" y="401.6" font-size="8.6" fill="#9b91c9" text-anchor="middle" textLength="36.4" lengthAdjust="spacingAndGlyphs" stroke="#9b91c9" stroke-width="0.1">KO+PGD</text>
<text x="414.4" y="409.6" font-size="6.6" fill="#333" text-anchor="start" stroke="#333" stroke-width="0.1">class</text>
<text x="414.4" y="418.17" font-size="6.6" fill="#333" text-anchor="start" stroke="#333" stroke-width="0.1">CTP</text>
<text x="414.4" y="428.11" font-size="6.6" fill="#333" text-anchor="start" stroke="#333" stroke-width="0.1">UMP</text>
<text x="414.4" y="438.05" font-size="6.6" fill="#333" text-anchor="start" stroke="#333" stroke-width="0.1">AMP</text>
<text x="414.4" y="447.99" font-size="6.6" fill="#333" text-anchor="start" stroke="#333" stroke-width="0.1">dATP</text>
<text x="414.4" y="457.93" font-size="6.6" fill="#333" text-anchor="start" stroke="#333" stroke-width="0.1">GDP</text>
<text x="414.4" y="467.87" font-size="6.6" fill="#333" text-anchor="start" stroke="#333" stroke-width="0.1">GTP</text>
<text x="414.4" y="477.81" font-size="6.6" fill="#333" text-anchor="start" stroke="#333" stroke-width="0.1">IMP</text>
<text x="414.4" y="487.75" font-size="6.6" fill="#333" text-anchor="start" stroke="#333" stroke-width="0.1">UDP</text>
<text x="414.4" y="497.69" font-size="6.6" fill="#333" text-anchor="start" stroke="#333" stroke-width="0.1">ADP</text>
<text x="414.4" y="507.63" font-size="6.6" fill="#333" text-anchor="start" stroke="#333" stroke-width="0.1">dGTP</text>
<text x="414.4" y="517.5699999999999" font-size="6.6" fill="#333" text-anchor="start" stroke="#333" stroke-width="0.1">UTP</text>
<text x="414.4" y="527.51" font-size="6.6" fill="#333" text-anchor="start" stroke="#333" stroke-width="0.1">dTTP</text>
<text x="414.4" y="537.4499999999999" font-size="6.6" fill="#333" text-anchor="start" stroke="#333" stroke-width="0.1">GMP</text>
<text x="414.4" y="547.39" font-size="6.6" fill="#333" text-anchor="start" stroke="#333" stroke-width="0.1">ATP</text>
<text x="414.4" y="557.3299999999999" font-size="6.6" fill="#333" text-anchor="start" stroke="#333" stroke-width="0.1">PRPP</text>
<text x="414.4" y="567.27" font-size="6.6" fill="#333" text-anchor="start" stroke="#333" stroke-width="0.1">dCTP</text>
<text transform="translate(165.87,573.0) rotate(90)" font-size="6.8" fill="#333">WT+vector 1</text>
<text transform="translate(178.31,573.0) rotate(90)" font-size="6.8" fill="#333">WT+vector 2</text>
<text transform="translate(190.75,573.0) rotate(90)" font-size="6.8" fill="#333">WT+vector 3</text>
<text transform="translate(203.19,573.0) rotate(90)" font-size="6.8" fill="#333">WT+vector 4</text>
<text transform="translate(215.63,573.0) rotate(90)" font-size="6.8" fill="#333">WT+vector 5</text>
<text transform="translate(228.07,573.0) rotate(90)" font-size="6.8" fill="#333">WT+PGD 1</text>
<text transform="translate(240.51,573.0) rotate(90)" font-size="6.8" fill="#333">WT+PGD 2</text>
<text transform="translate(252.95,573.0) rotate(90)" font-size="6.8" fill="#333">WT+PGD 3</text>
<text transform="translate(265.39,573.0) rotate(90)" font-size="6.8" fill="#333">WT+PGD 4</text>
<text transform="translate(277.83,573.0) rotate(90)" font-size="6.8" fill="#333">WT+PGD 5</text>
<text transform="translate(290.27,573.0) rotate(90)" font-size="6.8" fill="#333">KO+vector 1</text>
<text transform="translate(302.71,573.0) rotate(90)" font-size="6.8" fill="#333">KO+vector 2</text>
<text transform="translate(315.15,573.0) rotate(90)" font-size="6.8" fill="#333">KO+vector 3</text>
<text transform="translate(327.59,573.0) rotate(90)" font-size="6.8" fill="#333">KO+vector 4</text>
<text transform="translate(340.03,573.0) rotate(90)" font-size="6.8" fill="#333">KO+vector 5</text>
<text transform="translate(352.47,573.0) rotate(90)" font-size="6.8" fill="#333">KO+PGD 1</text>
<text transform="translate(364.91,573.0) rotate(90)" font-size="6.8" fill="#333">KO+PGD 2</text>
<text transform="translate(377.35,573.0) rotate(90)" font-size="6.8" fill="#333">KO+PGD 3</text>
<text transform="translate(389.79,573.0) rotate(90)" font-size="6.8" fill="#333">KO+PGD 4</text>
<text transform="translate(402.23,573.0) rotate(90)" font-size="6.8" fill="#333">KO+PGD 5</text>
<defs><linearGradient id="cb" x1="0" y1="0" x2="0" y2="1"><stop offset="0.000" stop-color="#5a0a20"/><stop offset="0.056" stop-color="#a0102f"/><stop offset="0.122" stop-color="#c5153a"/><stop offset="0.189" stop-color="#d8493b"/><stop offset="0.256" stop-color="#e57a5b"/><stop offset="0.311" stop-color="#f1a282"/><stop offset="0.367" stop-color="#f8c8a8"/><stop offset="0.422" stop-color="#f5e0d6"/><stop offset="0.478" stop-color="#efe9ea"/><stop offset="0.500" stop-color="#eeeaee"/><stop offset="0.562" stop-color="#cadbef"/><stop offset="0.631" stop-color="#92c3e2"/><stop offset="0.700" stop-color="#5aa2cf"/><stop offset="0.751" stop-color="#3a89c2"/><stop offset="0.822" stop-color="#2b72b3"/><stop offset="0.889" stop-color="#2262a5"/><stop offset="0.956" stop-color="#1a4a85"/><stop offset="1.000" stop-color="#0b1f45"/></linearGradient></defs>
<rect x="434.2" y="404.1" width="4.5" height="77.7" fill="url(#cb)"/>
<text x="441.2" y="410.29999999999995" font-size="6.8" fill="#333" text-anchor="start" stroke="#333" stroke-width="0.1">2</text>
<text x="441.2" y="428.04999999999995" font-size="6.8" fill="#333" text-anchor="start" stroke="#333" stroke-width="0.1">1</text>
<text x="441.2" y="445.79999999999995" font-size="6.8" fill="#333" text-anchor="start" stroke="#333" stroke-width="0.1">0</text>
<text x="441.2" y="463.54999999999995" font-size="6.8" fill="#333" text-anchor="start" stroke="#333" stroke-width="0.1">−1</text>
<text x="441.2" y="481.29999999999995" font-size="6.8" fill="#333" text-anchor="start" stroke="#333" stroke-width="0.1">−2</text>
<text x="450.6" y="410.2" font-size="6.6" fill="#333" text-anchor="start" stroke="#333" stroke-width="0.1">class</text>
<rect x="450.60" y="415.20" width="8.80" height="9.05" fill="#1b4a88"/>
<text x="462.5" y="422.0" font-size="6.6" fill="#333" text-anchor="start" stroke="#333" stroke-width="0.1">WT+vector</text>
<rect x="450.60" y="424.25" width="8.80" height="9.05" fill="#f3900c"/>
<text x="462.5" y="431.05" font-size="6.6" fill="#333" text-anchor="start" stroke="#333" stroke-width="0.1">WT+PGD</text>
<rect x="450.60" y="433.30" width="8.80" height="9.05" fill="#c8102e"/>
<text x="462.5" y="440.1" font-size="6.6" fill="#333" text-anchor="start" stroke="#333" stroke-width="0.1">KO+vector</text>
<rect x="450.60" y="442.35" width="8.80" height="9.05" fill="#9487c5"/>
<text x="462.5" y="449.15" font-size="6.6" fill="#333" text-anchor="start" stroke="#333" stroke-width="0.1">KO+PGD</text>
<rect x="0" y="0" width="520" height="1" fill="#1a1a1a"/><rect x="0" y="0" width="1" height="638" fill="#1a1a1a"/><rect x="518.8" y="0" width="1.2" height="638" fill="#1a1a1a"/><rect x="0" y="636.8" width="520" height="1.2" fill="#1a1a1a"/>
</svg>
</body></html>
